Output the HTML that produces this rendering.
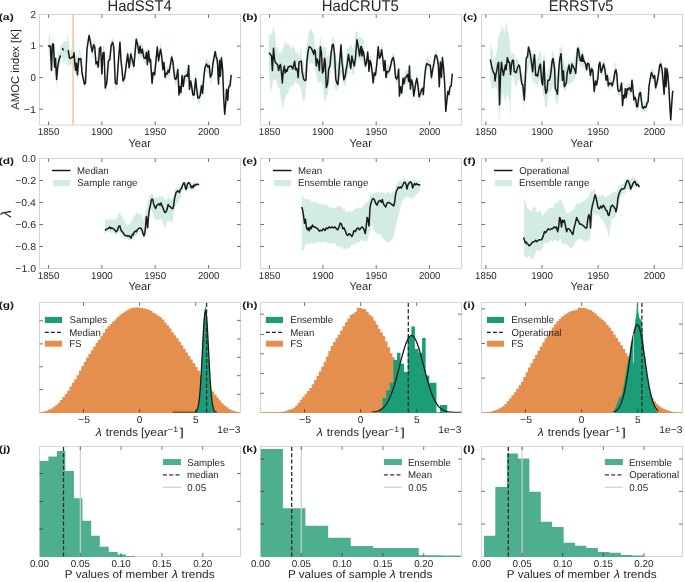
<!DOCTYPE html>
<html><head><meta charset="utf-8"><style>html,body{margin:0;padding:0;background:#fff;overflow:hidden}svg{display:block;will-change:transform}</style></head>
<body><svg width="685" height="582" viewBox="0 0 685 582" font-family='"Liberation Sans", sans-serif' text-rendering="geometricPrecision"><rect x="39.5" y="14.5" width="201" height="110.5" fill="none" stroke="#d5d5d5" stroke-width="1"/>
<rect x="260.5" y="14.5" width="201" height="110.5" fill="none" stroke="#d5d5d5" stroke-width="1"/>
<rect x="481.5" y="14.5" width="201" height="110.5" fill="none" stroke="#d5d5d5" stroke-width="1"/>
<rect x="39.5" y="158.5" width="201" height="110" fill="none" stroke="#d5d5d5" stroke-width="1"/>
<rect x="260.5" y="158.5" width="201" height="110" fill="none" stroke="#d5d5d5" stroke-width="1"/>
<rect x="481.5" y="158.5" width="201" height="110" fill="none" stroke="#d5d5d5" stroke-width="1"/>
<rect x="39.5" y="302.5" width="201" height="110" fill="none" stroke="#d5d5d5" stroke-width="1"/>
<rect x="260.5" y="302.5" width="201" height="110" fill="none" stroke="#d5d5d5" stroke-width="1"/>
<rect x="481.5" y="302.5" width="201" height="110" fill="none" stroke="#d5d5d5" stroke-width="1"/>
<rect x="39.5" y="446.5" width="201" height="110" fill="none" stroke="#d5d5d5" stroke-width="1"/>
<rect x="260.5" y="446.5" width="201" height="110" fill="none" stroke="#d5d5d5" stroke-width="1"/>
<rect x="481.5" y="446.5" width="201" height="110" fill="none" stroke="#d5d5d5" stroke-width="1"/>
<clipPath id="ca"><rect x="39.5" y="14.5" width="201" height="111.0"/></clipPath><g clip-path="url(#ca)">
<polygon points="48.56,37.24 49.63,31.94 50.70,43.50 51.76,56.16 52.83,33.47 53.90,46.38 54.96,57.45 56.03,57.21 57.09,58.02 58.16,53.50 59.23,52.76 60.29,46.61 61.36,45.37 62.43,42.41 63.49,41.82 64.56,41.05 65.62,41.19 66.69,41.55 67.76,34.16 68.82,40.65 69.89,50.75 70.96,50.93 72.02,44.71 73.09,43.96 74.16,38.89 75.22,60.75 76.29,49.50 77.35,58.05 78.42,56.07 79.49,46.63 80.55,53.76 81.62,59.35 82.69,70.94 83.75,75.94 84.82,76.43 85.88,68.24 86.95,45.35 88.02,37.05 89.08,30.49 90.15,35.66 91.22,38.22 92.28,45.54 93.35,40.95 94.42,38.57 95.48,51.74 96.55,57.73 97.61,56.29 98.68,55.53 99.75,43.06 100.81,45.44 101.88,68.37 102.95,45.20 104.01,46.07 105.08,77.02 106.14,76.95 107.21,71.80 108.28,55.11 109.34,54.72 110.41,45.97 111.48,39.00 112.54,37.66 113.61,40.97 114.68,62.71 115.74,77.08 116.81,78.88 117.87,64.00 118.94,48.31 120.01,36.61 121.07,53.16 122.14,66.22 123.21,74.81 124.27,73.38 125.34,65.64 126.40,57.97 127.47,47.21 128.54,54.72 129.60,59.43 130.67,49.95 131.74,50.87 132.80,57.04 133.87,60.30 134.94,48.41 136.00,36.43 137.07,35.70 138.13,40.86 139.20,44.36 140.27,42.00 141.33,44.61 142.40,43.68 143.47,47.82 144.53,51.58 145.60,51.12 146.66,49.67 147.73,52.31 148.80,46.79 149.86,53.91 150.93,60.00 152.00,77.35 153.06,68.25 154.13,67.98 155.19,62.16 156.26,50.97 157.33,41.85 158.39,53.73 159.46,49.97 160.53,41.51 161.59,49.37 162.66,61.46 163.73,58.72 164.79,66.36 165.86,65.91 166.92,67.56 167.99,65.56 169.06,64.92 170.12,59.45 171.19,54.62 172.26,53.19 173.32,60.75 174.39,68.79 175.45,73.68 176.52,68.85 177.59,66.17 178.65,80.18 179.72,80.90 180.79,86.14 181.85,73.54 182.92,77.37 183.99,73.11 185.05,71.24 186.12,69.03 187.18,69.07 188.25,62.47 189.32,78.26 190.38,77.16 191.45,80.31 192.52,85.49 193.58,89.53 194.65,82.22 195.71,72.89 196.78,84.37 197.85,89.32 198.91,89.90 199.98,90.55 201.05,82.58 202.11,84.25 203.18,77.65 204.25,65.55 205.31,60.19 206.38,57.20 207.44,59.32 208.51,61.21 209.58,60.75 210.64,70.29 211.71,68.87 212.78,57.31 213.84,53.73 214.91,46.54 215.97,49.90 217.04,51.86 218.11,68.18 219.17,63.99 220.24,68.49 221.31,54.19 222.37,59.42 223.44,82.35 224.51,102.97 225.57,99.61 226.64,84.82 227.70,92.94 228.77,79.90 229.84,80.16 230.90,70.06 230.90,85.62 229.84,91.32 228.77,93.83 227.70,105.74 226.64,97.29 225.57,111.06 224.51,116.23 223.44,96.58 222.37,73.88 221.31,67.35 220.24,78.76 219.17,76.87 218.11,80.76 217.04,64.33 215.97,60.94 214.91,60.04 213.84,64.65 212.78,70.58 211.71,82.35 210.64,83.85 209.58,77.50 208.51,74.39 207.44,72.96 206.38,71.70 205.31,72.11 204.25,79.67 203.18,92.84 202.11,96.25 201.05,97.13 199.98,101.57 198.91,105.02 197.85,102.34 196.78,97.44 195.71,86.60 194.65,95.26 193.58,100.49 192.52,97.65 191.45,91.29 190.38,88.34 189.32,90.33 188.25,78.16 187.18,82.37 186.12,81.51 185.05,81.39 183.99,85.96 182.92,88.29 181.85,83.66 180.79,98.97 179.72,94.19 178.65,92.97 177.59,76.22 176.52,83.16 175.45,86.77 174.39,81.42 173.32,71.79 172.26,64.48 171.19,65.19 170.12,74.62 169.06,80.15 167.99,76.75 166.92,79.46 165.86,79.42 164.79,81.80 163.73,69.78 162.66,73.74 161.59,63.12 160.53,56.20 159.46,60.38 158.39,66.00 157.33,52.19 156.26,65.54 155.19,75.13 154.13,79.28 153.06,79.73 152.00,89.55 150.93,73.46 149.86,67.37 148.80,59.53 147.73,68.58 146.66,61.35 145.60,64.02 144.53,63.84 143.47,61.91 142.40,56.82 141.33,60.31 140.27,54.44 139.20,59.73 138.13,54.87 137.07,50.71 136.00,47.73 134.94,62.41 133.87,73.36 132.80,68.67 131.74,66.06 130.67,62.94 129.60,69.56 128.54,67.99 127.47,62.31 126.40,71.47 125.34,77.10 124.27,84.21 123.21,85.73 122.14,76.60 121.07,66.42 120.01,48.54 118.94,62.29 117.87,74.32 116.81,91.07 115.74,88.97 114.68,75.58 113.61,53.20 112.54,50.95 111.48,49.88 110.41,60.28 109.34,68.15 108.28,70.36 107.21,82.34 106.14,92.41 105.08,87.36 104.01,60.18 102.95,59.48 101.88,79.93 100.81,57.23 99.75,54.52 98.68,66.01 97.61,69.08 96.55,68.34 95.48,65.25 94.42,52.89 93.35,51.92 92.28,58.84 91.22,53.97 90.15,46.29 89.08,41.38 88.02,48.81 86.95,57.61 85.88,80.44 84.82,88.99 83.75,86.04 82.69,81.36 81.62,74.82 80.55,64.35 79.49,66.24 78.42,72.74 77.35,81.80 76.29,72.79 75.22,73.46 74.16,67.73 73.09,65.48 72.02,65.18 70.96,64.25 69.89,64.98 68.82,65.65 67.76,66.05 66.69,57.33 65.62,61.23 64.56,61.02 63.49,63.78 62.43,57.15 61.36,58.86 60.29,62.07 59.23,65.20 58.16,74.74 57.09,89.13 56.03,74.63 54.96,76.61 53.90,59.88 52.83,56.77 51.76,71.93 50.70,62.71 49.63,55.41 48.56,55.56" fill="#d2ece5" stroke="none"/>
<line x1="73.1" y1="14.5" x2="73.1" y2="125.0" stroke="#f3ceb3" stroke-width="1.8"/>
<polyline points="48.09,45.46 49.64,46.69 50.41,46.23 51.49,70.49 52.42,43.91 53.50,44.22 54.58,67.09 55.51,58.59 56.59,79.46 57.67,67.09 58.91,60.14 60.46,55.50" fill="none" stroke="#1a1a1a" stroke-width="1.5" stroke-linejoin="round" stroke-linecap="butt"/>
<polyline points="62.31,48.24 63.55,50.40" fill="none" stroke="#1a1a1a" stroke-width="1.5" stroke-linejoin="round" stroke-linecap="butt"/>
<polyline points="68.18,50.09 69.42,57.82 70.50,58.59 72.05,57.05 73.13,57.51 74.06,52.87 74.83,63.23 75.60,70.19 76.38,63.23 77.46,74.82 78.69,58.59 79.78,59.37 80.86,58.59 82.09,73.28 84.41,84.10 85.49,83.32 87.04,48.55 89.05,35.41 90.60,43.14 92.14,51.64 93.69,44.68 94.77,47.00 96.00,64.00 97.24,61.68 98.32,67.09 99.40,48.55 100.64,47.00 101.88,74.05 102.96,53.18 104.04,52.41 105.28,87.96 106.82,82.55 108.37,60.91 109.91,59.37 111.15,45.46 112.70,42.36 113.78,47.00 115.32,83.32 116.87,84.10 118.42,60.91 119.96,42.36 121.04,60.91 121.97,69.41 123.05,81.00 124.60,77.91 126.14,65.55 127.69,53.96 129.23,67.87 130.78,53.96 132.33,60.14 133.87,66.32 136.19,39.27 137.74,45.46 138.97,53.18 140.05,46.23 141.14,53.18 142.37,49.32 142.32,49.32 143.86,57.82 145.41,58.59 146.49,52.41 147.42,64.78 148.50,50.87 149.58,61.68 150.51,59.37 152.06,83.32 153.14,72.50 154.68,74.82 155.92,60.91 157.31,47.00 158.55,60.91 159.78,53.18 160.56,49.32 161.64,55.50 162.87,69.41 163.96,62.46 165.04,77.14 165.97,73.28 167.05,74.05 168.13,70.19 169.06,72.50 170.14,66.32 171.68,57.05 172.77,60.91 173.69,69.41 174.78,78.69 175.86,79.46 176.79,76.37 177.87,69.41 178.95,94.91 179.88,86.41 180.96,92.60 182.04,75.60 183.28,86.41 184.51,76.37 185.60,76.37 186.68,74.82 187.60,76.37 188.69,65.55 189.46,89.51 190.70,81.00 191.78,87.19 192.86,94.91 194.10,94.91 195.64,78.69 196.88,91.05 197.96,98.01 199.04,98.01 200.28,94.91 201.51,85.64 202.60,93.37 203.68,78.69 204.91,67.87 206.46,64.00 208.01,67.09 209.24,65.55 210.32,77.14 211.87,74.05 212.95,63.23 213.88,58.59 215.12,51.64 216.20,57.05 216.97,58.59 217.59,64.78 218.52,84.10 219.60,60.14 220.37,76.37 221.45,57.82 222.69,70.19 223.77,99.55 224.70,114.23 225.78,102.64 226.55,89.51 227.79,100.32 228.41,88.73 229.34,85.64 230.11,85.64 231.19,74.82" fill="none" stroke="#1a1a1a" stroke-width="1.5" stroke-linejoin="round" stroke-linecap="butt"/>
</g>
<clipPath id="cb"><rect x="260.5" y="14.5" width="201" height="111.0"/></clipPath><g clip-path="url(#cb)">
<polygon points="268.86,34.26 269.93,35.63 271.00,33.59 272.07,34.07 273.14,26.51 274.21,29.88 275.28,35.01 276.35,47.70 277.42,47.05 278.49,54.94 279.56,50.15 280.63,54.02 281.70,50.60 282.77,50.27 283.84,46.80 284.91,41.46 285.98,42.98 287.05,44.95 288.12,41.63 289.19,45.88 290.26,46.37 291.33,49.61 292.40,43.65 293.47,48.45 294.54,47.28 295.61,52.33 296.68,53.72 297.75,51.26 298.82,57.48 299.89,51.54 300.96,47.07 302.03,60.01 303.10,59.06 304.17,70.63 305.24,71.77 306.31,45.79 307.38,41.57 308.45,34.04 309.52,29.79 310.59,29.82 311.66,29.07 312.73,33.42 313.80,34.23 314.87,47.14 315.94,50.70 317.01,48.93 318.08,48.11 319.15,48.19 320.22,36.27 321.29,42.89 322.36,45.52 323.43,46.76 324.50,47.50 325.57,46.86 326.64,56.13 327.71,55.19 328.78,53.87 329.85,57.34 330.92,49.54 331.99,39.68 333.06,35.05 334.13,39.63 335.20,52.12 336.27,58.33 337.34,62.97 338.41,60.65 339.48,48.45 340.55,39.54 341.62,47.53 342.69,54.81 343.76,60.66 344.83,70.61 345.90,58.53 346.97,49.33 348.04,46.71 349.11,48.66 350.18,45.11 351.25,44.52 352.32,47.84 353.39,49.66 354.46,43.47 355.53,32.47 356.60,31.57 357.67,30.79 358.74,37.99 359.81,36.28 360.88,37.94 361.95,39.25 363.02,37.04 363.92,42.00 363.92,69.82 363.02,62.73 361.95,59.54 360.88,63.34 359.81,59.74 358.74,59.63 357.67,58.86 356.60,60.18 355.53,63.66 354.46,72.34 353.39,76.66 352.32,72.78 351.25,70.11 350.18,71.63 349.11,68.30 348.04,74.89 346.97,76.51 345.90,83.17 344.83,87.05 343.76,83.85 342.69,81.80 341.62,73.88 340.55,74.90 339.48,80.56 338.41,88.82 337.34,91.03 336.27,87.27 335.20,91.43 334.13,72.23 333.06,67.03 331.99,62.44 330.92,71.76 329.85,76.93 328.78,85.93 327.71,95.04 326.64,96.27 325.57,101.77 324.50,99.78 323.43,92.55 322.36,83.82 321.29,83.85 320.22,81.09 319.15,83.83 318.08,81.34 317.01,78.37 315.94,71.70 314.87,69.73 313.80,62.72 312.73,63.61 311.66,64.45 310.59,62.54 309.52,64.50 308.45,59.81 307.38,74.53 306.31,83.22 305.24,95.90 304.17,101.77 303.10,100.31 302.03,96.38 300.96,86.14 299.89,88.88 298.82,83.04 297.75,82.91 296.68,84.43 295.61,80.60 294.54,82.67 293.47,87.05 292.40,83.68 291.33,88.99 290.26,85.97 289.19,88.83 288.12,93.44 287.05,94.58 285.98,94.33 284.91,100.73 283.84,99.28 282.77,110.28 281.70,101.51 280.63,96.81 279.56,87.10 278.49,89.29 277.42,82.95 276.35,82.11 275.28,79.39 274.21,79.02 273.14,79.95 272.07,85.04 271.00,92.66 269.93,88.60 268.86,66.85" fill="#d2ece5" stroke="none"/>
<polygon points="360.20,42.45 361.27,41.13 362.33,48.51 363.40,44.50 364.47,53.29 365.53,61.61 366.60,56.32 367.66,45.90 368.73,62.36 369.80,55.06 370.86,55.70 371.93,66.31 373.00,76.22 374.06,66.69 375.13,70.45 376.19,65.11 377.26,53.32 378.33,42.95 379.39,53.89 380.46,49.23 381.53,43.74 382.59,49.10 383.66,60.93 384.73,57.87 385.79,70.24 386.86,65.56 387.92,64.50 388.99,66.19 390.06,62.97 391.12,55.39 392.19,55.53 393.26,51.29 394.32,57.01 395.39,70.10 396.45,74.37 397.52,71.52 398.59,65.30 399.65,89.36 400.72,83.29 401.79,87.81 402.85,75.65 403.92,76.48 404.99,72.29 406.05,69.64 407.12,70.50 408.18,70.45 409.25,62.89 410.32,82.65 411.38,73.40 412.45,78.63 413.52,86.63 414.58,84.03 415.65,79.73 416.71,74.09 417.78,80.09 418.85,87.45 419.91,88.26 420.98,87.20 422.05,83.82 423.11,88.49 424.18,76.46 425.25,64.38 426.31,60.34 427.38,56.99 428.44,59.31 429.51,58.63 430.58,61.97 431.64,72.06 432.71,63.60 433.78,58.55 434.84,52.76 435.91,47.97 436.97,53.29 438.04,59.12 439.11,78.44 440.17,60.65 441.24,69.11 442.31,53.85 443.37,61.78 444.44,75.40 445.51,99.03 446.57,97.40 447.64,86.39 448.70,90.07 449.77,84.09 450.84,82.06 451.90,73.52 451.90,84.07 450.84,92.51 449.77,94.66 448.70,99.16 447.64,99.66 446.57,110.82 445.51,108.50 444.44,86.40 443.37,70.19 442.31,63.36 441.24,79.10 440.17,70.72 439.11,89.73 438.04,68.14 436.97,61.43 435.91,59.48 434.84,65.35 433.78,68.56 432.71,76.53 431.64,81.72 430.58,75.76 429.51,69.19 428.44,69.13 427.38,68.56 426.31,70.87 425.25,77.30 424.18,90.13 423.11,96.78 422.05,95.49 420.98,99.31 419.91,99.83 418.85,102.68 417.78,88.76 416.71,83.20 415.65,88.62 414.58,95.01 413.52,98.38 412.45,89.44 411.38,84.78 410.32,91.78 409.25,75.32 408.18,83.82 407.12,83.30 406.05,84.70 404.99,84.44 403.92,87.84 402.85,86.50 401.79,96.43 400.72,93.62 399.65,101.55 398.59,73.72 397.52,82.78 396.45,84.40 395.39,81.99 394.32,67.42 393.26,65.52 392.19,63.61 391.12,68.15 390.06,72.80 388.99,75.79 387.92,79.26 386.86,76.71 385.79,79.49 384.73,69.80 383.66,73.93 382.59,64.19 381.53,54.64 380.46,60.70 379.39,62.14 378.33,52.77 377.26,63.82 376.19,76.75 375.13,81.46 374.06,79.11 373.00,85.55 371.93,74.92 370.86,68.64 369.80,69.43 368.73,70.71 367.66,56.94 366.60,65.98 365.53,70.35 364.47,62.88 363.40,56.56 362.33,59.50 361.27,52.12 360.20,52.77" fill="#d2ece5" stroke="none"/>
<polyline points="268.86,52.82 270.41,54.37 271.49,55.91 272.42,70.60 273.50,48.18 274.58,59.78 275.51,62.87 276.59,63.64 277.67,65.19 278.60,70.60 279.68,65.96 280.46,64.41 281.23,69.82 282.31,82.96 283.24,71.37 284.32,65.96 285.09,72.91 286.17,69.82 287.10,71.37 288.18,66.73 289.42,66.73 290.50,65.96 291.58,66.73 292.82,69.05 293.59,65.19 294.68,61.32 295.60,69.82 296.68,68.28 297.46,71.37 298.23,77.55 299.00,62.09 300.24,61.32 301.32,61.32 302.09,71.37 303.64,79.10 304.88,80.64 305.96,79.87 306.73,63.64 307.97,52.05 309.05,46.64 310.60,47.41 311.68,48.96 312.91,52.05 313.69,54.37 314.46,49.73 315.23,51.28 316.31,65.96 317.24,59.00 318.32,62.09 319.40,70.60 320.33,46.64 321.41,52.82 322.50,72.91 323.42,71.37 324.51,58.23 325.28,62.09 326.36,87.60 327.60,83.73 328.68,69.05 329.91,65.96 331.15,52.82 332.23,45.09 333.32,44.32 334.55,54.37 335.79,79.10 336.87,82.96 337.95,84.51 338.88,72.91 339.96,57.46 341.04,45.09 341.97,62.09 342.59,66.73 343.83,79.87 345.06,76.78 346.14,69.82 347.23,63.64 348.46,54.37 349.70,62.09 350.78,68.28 351.86,55.91 353.10,62.09 354.34,65.96 355.42,58.23 356.96,39.68 358.51,48.18 359.59,55.91 360.83,46.64 362.06,55.91 363.15,52.05 361.24,46.64 362.32,52.82 363.40,51.28 364.33,57.46 365.41,65.96 366.49,62.87 367.73,52.05 368.50,62.09 368.96,71.37 370.05,60.55 371.13,63.64 372.06,71.37 373.14,82.96 374.22,72.91 375.46,75.23 376.69,65.19 378.24,46.64 379.32,58.23 380.40,56.68 381.64,49.73 382.87,59.00 383.96,70.60 385.04,60.55 385.97,77.55 387.05,71.37 388.13,72.14 389.37,70.60 390.60,65.96 391.68,60.55 393.23,57.46 394.31,62.09 395.55,77.55 396.79,79.10 397.87,76.00 398.64,69.05 399.41,96.10 400.49,86.82 401.73,93.01 402.97,78.32 404.05,83.73 405.13,77.55 406.37,76.78 407.60,74.46 408.69,81.41 409.46,65.96 410.39,89.14 411.47,79.87 412.55,82.96 413.79,96.10 414.87,89.14 415.95,82.19 416.88,78.32 417.96,85.28 419.04,96.87 420.28,93.78 421.51,89.91 422.60,88.37 423.37,94.55 424.61,77.55 425.69,67.50 426.77,63.64 428.01,64.41 429.24,65.19 430.32,65.19 431.41,77.55 432.64,69.82 433.88,63.64 435.12,55.91 436.20,55.14 437.28,58.23 438.36,65.19 439.29,86.82 440.37,62.09 441.45,77.55 442.38,57.46 443.46,66.73 444.70,83.73 445.78,111.55 446.86,100.73 447.79,91.46 448.87,94.55 449.95,86.82 451.19,86.05 452.27,73.69" fill="none" stroke="#1a1a1a" stroke-width="1.5" stroke-linejoin="round" stroke-linecap="butt"/>
</g>
<clipPath id="cc"><rect x="481.5" y="14.5" width="201" height="111.0"/></clipPath><g clip-path="url(#cc)">
<polygon points="490.29,41.67 491.41,49.83 492.53,49.28 493.65,59.90 494.77,60.68 495.89,54.01 497.01,50.21 498.13,38.35 499.25,34.58 500.37,32.74 501.49,22.90 502.61,31.90 503.73,26.17 504.85,34.82 505.97,19.44 507.09,29.30 508.21,32.62 509.33,37.29 510.45,51.03 511.57,54.76 512.69,53.73 513.81,52.34 514.93,60.31 516.05,57.09 517.17,59.01 518.29,59.98 519.41,66.02 520.53,71.94 521.65,72.82 522.77,73.70 523.89,82.33 525.01,71.84 526.13,53.50 527.25,51.73 528.37,46.67 529.49,44.39 530.61,49.40 531.73,53.09 532.85,53.66 533.97,51.68 535.09,58.46 536.21,60.98 537.33,57.61 538.45,56.98 539.57,50.78 540.69,51.70 541.81,62.84 542.93,64.26 544.05,49.26 545.17,61.43 546.29,79.32 547.41,73.05 548.53,68.78 549.65,65.94 550.77,61.31 551.89,53.47 553.01,50.29 554.13,56.75 555.25,60.57 556.37,74.10 557.49,75.31 558.61,62.08 559.73,47.17 560.85,48.23 561.97,45.26 563.09,56.73 564.21,61.13 565.33,66.93 566.45,64.81 567.57,64.64 568.69,58.30 569.81,63.34 570.93,61.03 572.05,59.07 573.17,63.01 574.29,57.41 575.41,55.01 576.53,53.03 577.65,50.13 578.77,44.95 579.89,44.23 581.01,54.40 582.13,50.85 583.25,52.24 584.37,56.17 585.00,55.59 585.00,70.71 584.37,68.85 583.25,66.23 582.13,69.34 581.01,65.27 579.89,67.49 578.77,60.69 577.65,66.17 576.53,71.48 575.41,76.12 574.29,78.40 573.17,80.09 572.05,82.52 570.93,82.93 569.81,83.95 568.69,84.90 567.57,82.38 566.45,89.04 565.33,91.58 564.21,89.65 563.09,89.26 561.97,81.61 560.85,82.40 559.73,81.88 558.61,97.52 557.49,106.23 556.37,102.36 555.25,98.66 554.13,89.42 553.01,85.43 551.89,89.13 550.77,91.40 549.65,92.87 548.53,93.59 547.41,103.98 546.29,107.77 545.17,106.59 544.05,97.75 542.93,95.46 541.81,87.31 540.69,77.83 539.57,80.87 538.45,82.43 537.33,86.99 536.21,84.54 535.09,84.53 533.97,80.44 532.85,82.93 531.73,79.37 530.61,67.57 529.49,63.05 528.37,70.52 527.25,71.32 526.13,91.29 525.01,101.71 523.89,106.42 522.77,102.81 521.65,89.34 520.53,81.24 519.41,80.96 518.29,79.27 517.17,82.83 516.05,87.79 514.93,84.16 513.81,77.91 512.69,76.19 511.57,75.92 510.45,119.38 509.33,98.88 508.21,98.81 507.09,92.71 505.97,99.68 504.85,101.27 503.73,92.79 502.61,96.24 501.49,102.81 500.37,104.83 499.25,124.45 498.13,102.85 497.01,89.42 495.89,86.32 494.77,89.00 493.65,87.58 492.53,90.12 491.41,87.39 490.29,78.24" fill="#d2ece5" stroke="none"/>
<polygon points="586.94,63.49 588.06,58.54 589.19,60.91 590.31,70.31 591.43,66.09 592.56,63.98 593.68,78.10 594.80,81.61 595.92,78.44 597.05,74.49 598.17,70.29 599.29,59.06 600.42,62.34 601.54,65.57 602.66,59.40 603.78,59.98 604.91,62.25 606.03,75.63 607.15,68.82 608.28,80.62 609.40,76.46 610.52,77.56 611.64,80.34 612.77,78.77 613.89,72.46 615.01,63.36 616.14,62.41 617.26,76.24 618.38,84.42 619.51,84.89 620.63,84.21 621.75,81.01 622.87,97.85 624.00,89.01 625.12,82.72 626.24,91.35 627.37,83.64 628.49,83.36 629.61,84.10 630.73,86.47 631.86,77.00 632.98,81.83 634.10,93.95 635.23,93.48 636.35,97.77 637.47,102.61 638.59,94.03 639.72,86.81 640.84,88.72 641.96,97.78 643.09,103.53 644.21,101.90 645.33,103.22 646.45,101.33 647.58,98.35 648.70,86.58 649.82,73.90 650.95,70.89 652.07,67.71 653.19,69.46 654.32,71.00 655.44,80.22 656.56,78.94 657.68,74.74 658.81,65.22 659.93,58.51 661.05,60.61 662.18,66.31 663.30,80.31 664.42,81.33 665.54,70.91 666.67,69.92 667.79,67.15 668.91,84.90 670.04,100.91 671.16,108.82 672.28,91.54 672.28,101.30 671.16,120.29 670.04,113.09 668.91,94.88 667.79,81.08 666.67,81.26 665.54,83.02 664.42,90.99 663.30,89.34 662.18,75.48 661.05,72.26 659.93,70.69 658.81,80.01 657.68,85.84 656.56,88.32 655.44,91.99 654.32,83.06 653.19,81.90 652.07,79.64 650.95,80.33 649.82,85.69 648.70,95.17 647.58,108.34 646.45,112.98 645.33,111.48 644.21,111.28 643.09,112.28 641.96,113.03 640.84,100.03 639.72,101.52 638.59,104.79 637.47,110.74 636.35,109.82 635.23,102.83 634.10,106.33 632.98,94.54 631.86,88.23 630.73,94.87 629.61,96.56 628.49,93.17 627.37,95.78 626.24,103.62 625.12,95.44 624.00,103.00 622.87,106.88 621.75,93.34 620.63,96.40 619.51,95.27 618.38,96.04 617.26,85.08 616.14,77.88 615.01,79.89 613.89,85.93 612.77,88.40 611.64,89.06 610.52,88.01 609.40,87.37 608.28,92.02 607.15,82.53 606.03,86.31 604.91,77.99 603.78,69.06 602.66,74.89 601.54,76.99 600.42,70.99 599.29,72.03 598.17,79.26 597.05,87.50 595.92,86.52 594.80,95.08 593.68,88.80 592.56,74.36 591.43,76.96 590.31,81.49 589.19,69.17 588.06,69.82 586.94,71.60" fill="#d2ece5" stroke="none"/>
<polyline points="490.29,59.37 491.62,65.98 492.56,69.77 493.51,72.60 494.45,73.55 495.02,81.11 495.96,74.49 496.72,70.71 497.85,64.09 498.61,62.20 499.56,104.74 500.50,76.38 501.45,62.20 502.39,69.77 503.53,75.44 504.28,70.71 505.42,65.04 506.17,69.77 507.31,57.48 508.63,62.20 509.57,62.20 510.52,74.49 511.47,65.04 512.41,60.31 513.36,60.31 514.30,71.66 515.25,71.66 516.19,72.60 517.14,68.82 518.65,65.04 519.59,65.98 520.92,77.33 521.86,83.94 522.81,84.89 524.32,100.01 525.26,79.22 526.21,58.42 527.53,56.53 528.48,47.08 529.80,51.81 530.94,58.42 531.88,65.98 532.64,71.66 533.77,59.37 534.53,54.64 535.66,75.44 536.61,74.49 537.55,76.38 538.50,71.66 539.44,65.98 540.39,64.09 541.71,82.05 542.66,84.89 543.98,61.26 545.11,87.72 545.87,93.40 547.00,90.56 547.95,80.16 549.27,80.16 550.22,77.33 551.16,70.71 552.11,61.26 553.05,58.42 554.57,68.82 555.32,88.67 556.46,90.56 557.40,94.34 558.72,70.71 559.67,59.37 560.99,53.70 562.50,80.16 563.45,70.71 564.40,86.78 565.34,84.89 566.29,83.00 567.23,72.60 568.18,68.82 569.12,65.04 570.07,73.55 571.01,71.66 571.96,64.09 572.90,65.98 573.85,67.88 574.79,69.77 575.74,73.55 576.68,60.31 577.63,48.03 578.57,49.92 579.52,57.48 580.46,59.37 581.41,61.26 582.35,54.64 583.30,61.26 580.00,60.31 580.95,59.37 582.27,54.64 583.40,59.37 584.73,62.20 585.67,64.09 586.62,69.77 587.56,63.15 589.07,64.09 590.40,75.44 591.72,68.82 592.85,70.71 594.18,91.50 595.50,81.11 596.64,84.89 597.96,77.33 598.90,65.04 599.85,62.20 601.17,72.60 602.31,68.82 603.63,64.09 604.95,69.77 606.09,80.16 607.41,75.44 608.36,85.83 609.30,83.00 610.25,83.94 611.19,83.00 612.14,85.83 613.65,80.16 614.97,71.66 615.92,69.77 616.86,74.49 617.81,89.61 619.13,91.50 620.26,90.56 621.59,83.00 622.53,105.68 623.48,95.29 624.42,98.12 625.37,88.67 626.31,97.18 627.26,88.67 628.20,89.61 629.15,87.72 630.09,88.67 631.04,91.50 631.98,80.16 632.93,88.67 633.88,100.01 634.82,97.18 635.77,99.07 636.71,106.63 637.66,106.63 638.60,98.12 639.55,93.40 640.49,92.45 641.44,100.96 642.38,107.57 643.33,108.52 644.27,106.63 645.22,107.57 646.16,106.63 647.11,102.85 648.05,101.90 649.00,85.83 650.32,78.27 651.46,72.60 652.59,75.44 653.72,78.27 654.67,75.44 655.61,87.72 657.13,82.05 658.45,74.49 659.77,65.04 660.91,64.09 662.23,70.71 663.18,83.00 664.12,94.34 665.07,67.88 666.01,86.78 666.96,68.82 667.90,74.49 668.85,87.72 669.79,104.74 670.74,119.86 671.68,104.74 672.63,91.50 673.57,91.50" fill="none" stroke="#1a1a1a" stroke-width="1.5" stroke-linejoin="round" stroke-linecap="butt"/>
</g>
<clipPath id="cd"><rect x="39.5" y="158.5" width="201" height="110.5"/></clipPath><g clip-path="url(#cd)">
<polygon points="104.96,217.81 106.03,219.15 107.10,220.47 108.17,219.92 109.24,219.64 110.31,218.67 111.38,219.77 112.45,219.36 113.52,218.72 114.59,220.03 115.66,217.74 116.73,219.23 117.80,216.06 118.87,212.64 119.94,212.44 121.01,215.63 122.08,216.22 123.15,218.80 124.22,220.97 125.29,222.81 126.36,224.37 127.43,225.88 128.50,223.63 129.57,225.78 130.64,222.44 131.71,221.34 132.78,219.23 133.85,215.47 134.92,215.73 135.99,213.44 137.06,212.57 138.13,213.74 139.20,214.86 140.27,213.70 141.34,213.47 142.41,217.55 143.48,219.91 144.55,216.62 145.62,212.90 146.69,206.51 147.76,202.61 148.83,197.59 149.90,195.67 150.97,194.83 152.04,192.77 153.11,195.77 154.18,197.50 155.25,197.23 156.32,197.11 157.39,197.99 158.46,197.27 159.53,196.18 160.60,197.18 161.67,195.20 162.74,196.63 163.81,198.26 164.88,198.96 165.95,200.26 167.02,199.23 168.09,196.45 169.16,198.24 170.23,198.70 171.30,198.64 172.37,198.80 173.44,195.29 174.51,191.10 175.58,188.47 176.65,186.63 177.72,187.68 178.79,187.84 179.86,185.75 180.93,186.30 182.00,184.55 183.07,181.19 184.14,181.00 185.21,183.17 186.28,182.57 187.35,182.57 188.42,183.24 189.49,183.87 190.56,185.10 191.63,185.08 192.70,183.31 193.77,182.08 194.84,182.30 195.91,182.18 196.98,182.82 198.05,183.81 199.06,182.04 199.06,186.06 198.05,184.58 196.98,183.97 195.91,184.55 194.84,188.42 193.77,189.95 192.70,190.50 191.63,191.08 190.56,188.12 189.49,189.61 188.42,188.45 187.35,189.34 186.28,192.86 185.21,191.83 184.14,186.38 183.07,189.70 182.00,191.56 180.93,196.70 179.86,198.60 178.79,201.47 177.72,203.40 176.65,203.69 175.58,205.48 174.51,209.42 173.44,216.74 172.37,222.50 171.30,222.65 170.23,221.12 169.16,221.87 168.09,219.37 167.02,222.57 165.95,224.56 164.88,229.35 163.81,224.72 162.74,222.54 161.67,219.29 160.60,219.47 159.53,219.20 158.46,219.53 157.39,220.49 156.32,219.79 155.25,219.27 154.18,217.94 153.11,212.91 152.04,212.54 150.97,208.29 149.90,212.30 148.83,218.23 147.76,224.24 146.69,229.88 145.62,235.56 144.55,237.28 143.48,238.44 142.41,234.31 141.34,234.37 140.27,231.86 139.20,231.88 138.13,232.53 137.06,235.30 135.99,237.07 134.92,235.68 133.85,237.70 132.78,236.98 131.71,238.80 130.64,240.27 129.57,240.24 128.50,240.29 127.43,238.73 126.36,239.20 125.29,237.92 124.22,237.96 123.15,237.74 122.08,235.56 121.01,233.25 119.94,233.38 118.87,231.10 117.80,234.15 116.73,234.42 115.66,233.98 114.59,233.70 113.52,232.93 112.45,232.11 111.38,233.30 110.31,232.32 109.24,230.41 108.17,232.78 107.10,231.30 106.03,233.61 104.96,234.90" fill="#d2ece5" stroke="none"/>
<polyline points="104.96,230.54 106.24,229.42 107.53,228.62 108.65,228.13 109.77,227.01 110.74,228.62 111.86,227.81 112.99,228.62 113.95,229.10 115.07,230.22 116.20,231.83 117.48,230.22 118.77,226.21 119.89,225.89 121.02,230.22 122.30,231.83 123.59,233.43 124.71,235.04 125.83,235.84 126.80,235.52 127.92,236.16 129.05,235.84 130.01,236.65 131.13,238.25 132.26,234.24 133.22,235.04 134.34,231.83 135.47,231.02 136.43,231.83 137.56,229.42 138.68,228.62 139.97,227.81 141.25,228.62 142.37,231.02 143.18,234.24 143.98,235.84 144.78,233.43 145.59,226.21 146.39,216.57 147.19,223.00 147.67,227.81 148.32,218.18 149.28,210.15 150.40,205.33 151.21,200.51 152.01,198.91 152.81,199.71 153.62,203.72 154.74,206.94 155.70,208.54 156.83,205.33 157.95,204.53 158.92,203.72 160.04,205.33 160.84,202.92 161.65,204.53 162.45,206.94 163.25,208.54 164.38,211.75 165.34,212.56 166.46,210.95 167.27,208.54 168.07,204.53 169.19,206.13 170.48,206.94 171.76,208.54 172.89,208.54 173.69,205.33 174.49,198.91 175.30,195.69 176.10,192.48 176.90,191.68 177.70,190.88 178.51,191.68 179.31,192.48 180.11,190.07 180.92,189.27 181.72,187.67 182.52,185.26 183.33,183.65 184.13,182.85 184.93,185.26 185.73,189.27 186.54,188.47 187.34,184.45 188.14,182.85 188.95,182.53 189.75,183.65 190.55,185.26 191.35,187.67 192.16,186.06 192.96,187.67 193.76,185.26 194.57,186.06 195.37,184.45 196.49,184.77 197.78,184.13 199.06,184.77" fill="none" stroke="#1a1a1a" stroke-width="1.5" stroke-linejoin="round" stroke-linecap="butt"/>
</g>
<clipPath id="ce"><rect x="260.5" y="158.5" width="201" height="110.5"/></clipPath><g clip-path="url(#ce)">
<polygon points="301.64,195.47 302.71,195.38 303.78,198.76 304.85,199.52 305.92,198.69 306.99,199.81 308.06,199.00 309.13,199.56 310.20,200.29 311.27,202.04 312.34,201.07 313.41,203.61 314.48,201.18 315.55,201.81 316.62,201.77 317.69,204.08 318.76,203.14 319.83,203.72 320.90,203.55 321.97,204.75 323.04,204.32 324.11,204.00 325.18,204.93 326.25,204.82 327.32,204.52 328.39,207.20 329.46,207.30 330.53,207.79 331.60,208.84 332.67,207.65 333.74,207.87 334.81,208.27 335.88,207.45 336.95,207.44 338.02,204.65 339.09,205.85 340.16,206.77 341.23,206.92 342.30,206.66 343.37,209.42 344.44,208.12 345.51,211.21 346.58,211.40 347.65,211.70 348.72,211.79 349.79,211.08 350.86,210.71 351.93,211.60 353.00,211.01 354.07,209.20 355.14,209.36 356.21,208.27 357.28,207.99 358.35,208.76 359.42,206.71 360.49,208.03 361.56,207.14 362.63,206.76 363.70,204.37 364.77,203.91 365.84,202.69 366.91,202.56 367.98,201.57 369.05,198.14 370.12,195.24 371.19,192.72 372.26,194.13 373.33,193.98 374.40,193.72 375.47,193.32 376.54,191.30 377.61,191.41 378.68,193.20 379.75,192.68 380.82,192.78 381.89,191.45 382.96,193.13 384.03,191.24 385.10,193.75 386.17,193.53 387.24,191.95 388.31,191.50 389.38,193.30 390.45,193.89 391.52,192.88 392.59,192.00 393.66,191.28 394.73,191.13 395.80,185.18 396.87,184.81 397.94,181.68 399.01,180.67 400.08,179.68 401.15,181.57 402.22,180.93 403.29,178.83 404.36,177.96 405.43,179.99 406.50,181.05 407.57,178.58 408.64,180.44 409.71,181.11 410.78,180.24 411.85,180.93 412.92,181.82 413.99,179.76 415.06,179.51 416.13,180.73 417.20,180.76 418.27,181.07 419.34,180.98 420.26,180.44 420.26,191.83 419.34,191.11 418.27,192.50 417.20,194.05 416.13,194.07 415.06,197.39 413.99,195.35 412.92,200.28 411.85,197.36 410.78,198.56 409.71,197.74 408.64,196.15 407.57,197.77 406.50,195.89 405.43,197.20 404.36,199.44 403.29,199.40 402.22,202.15 401.15,204.52 400.08,209.94 399.01,214.12 397.94,216.53 396.87,221.12 395.80,225.02 394.73,232.24 393.66,236.48 392.59,239.07 391.52,238.78 390.45,241.50 389.38,242.90 388.31,241.14 387.24,243.47 386.17,240.50 385.10,239.89 384.03,240.61 382.96,237.69 381.89,237.21 380.82,234.41 379.75,234.92 378.68,234.11 377.61,234.15 376.54,234.00 375.47,231.73 374.40,229.83 373.33,229.76 372.26,224.87 371.19,226.60 370.12,230.63 369.05,233.06 367.98,238.13 366.91,242.17 365.84,240.97 364.77,241.19 363.70,241.10 362.63,241.05 361.56,239.85 360.49,240.82 359.42,242.55 358.35,242.63 357.28,242.10 356.21,243.77 355.14,243.49 354.07,245.04 353.00,245.02 351.93,244.50 350.86,245.62 349.79,247.64 348.72,249.38 347.65,247.06 346.58,249.23 345.51,248.35 344.44,248.98 343.37,249.38 342.30,246.99 341.23,246.42 340.16,246.97 339.09,246.28 338.02,247.22 336.95,246.08 335.88,244.38 334.81,243.57 333.74,243.35 332.67,243.75 331.60,243.88 330.53,242.90 329.46,244.33 328.39,242.57 327.32,243.94 326.25,241.77 325.18,241.24 324.11,242.69 323.04,242.27 321.97,242.35 320.90,242.17 319.83,242.50 318.76,241.21 317.69,242.92 316.62,242.22 315.55,242.67 314.48,242.67 313.41,244.21 312.34,243.07 311.27,242.57 310.20,244.08 309.13,243.44 308.06,244.51 306.99,243.83 305.92,243.66 304.85,246.24 303.78,249.22 302.71,250.39 301.64,253.31" fill="#d2ece5" stroke="none"/>
<polyline points="301.64,207.01 302.59,209.86 303.54,215.55 304.49,223.14 305.44,219.35 306.39,226.94 307.34,229.78 308.29,227.89 309.23,230.73 310.18,226.94 311.13,228.83 312.46,225.04 313.60,226.94 314.93,226.94 316.26,227.89 317.77,228.83 319.29,231.11 320.62,230.35 321.95,230.73 323.47,228.83 324.99,230.35 326.32,227.89 327.64,228.83 329.16,226.94 330.68,227.89 332.01,226.94 333.34,227.89 334.86,226.94 336.37,228.83 337.70,229.78 339.03,226.94 340.17,223.14 341.50,224.09 342.83,228.83 343.97,227.89 345.29,230.73 346.62,234.53 347.76,235.48 349.09,233.58 350.42,234.53 351.94,236.43 352.89,234.53 353.83,230.73 355.35,231.68 356.68,228.83 358.01,227.89 359.53,229.78 361.05,227.89 362.38,226.94 363.70,228.83 365.22,233.58 366.17,226.94 367.12,217.45 368.07,219.35 369.02,225.99 369.97,207.96 370.92,203.21 371.86,200.37 372.81,198.47 374.33,199.42 375.66,203.21 376.99,205.11 378.51,201.32 380.03,200.37 381.35,202.26 382.30,199.42 383.25,203.21 384.20,205.11 385.72,207.01 387.05,203.21 388.38,202.26 389.89,203.21 391.41,204.16 392.74,205.11 393.69,206.06 394.64,202.26 395.59,194.67 396.54,190.88 397.49,188.98 398.44,187.08 399.38,188.03 400.33,187.08 401.28,188.03 402.23,186.13 403.18,184.23 404.13,182.34 405.08,182.34 406.03,184.23 406.98,188.98 407.92,185.18 408.87,183.29 410.39,181.77 411.72,183.29 412.67,188.03 413.62,185.18 414.57,183.66 415.52,184.80 416.47,183.66 417.98,184.80 419.31,184.80 420.26,185.18" fill="none" stroke="#1a1a1a" stroke-width="1.5" stroke-linejoin="round" stroke-linecap="butt"/>
</g>
<clipPath id="cf"><rect x="481.5" y="158.5" width="201" height="110.5"/></clipPath><g clip-path="url(#cf)">
<polygon points="524.11,197.96 525.18,201.66 526.25,203.31 527.32,208.15 528.39,208.94 529.46,209.26 530.53,210.67 531.60,211.23 532.67,208.61 533.74,207.58 534.81,205.35 535.88,208.58 536.95,213.36 538.02,212.21 539.09,210.43 540.16,210.40 541.23,211.89 542.30,215.72 543.37,214.87 544.44,213.56 545.51,211.99 546.58,211.09 547.65,209.19 548.72,209.21 549.79,207.34 550.86,208.06 551.93,207.66 553.00,207.42 554.07,205.61 555.14,203.54 556.21,203.06 557.28,203.59 558.35,201.55 559.42,200.12 560.49,199.26 561.56,199.85 562.63,204.59 563.70,205.57 564.77,208.90 565.84,212.17 566.91,213.37 567.98,213.84 569.05,213.16 570.12,211.39 571.19,210.78 572.26,210.73 573.33,209.82 574.40,207.80 575.47,205.15 576.54,204.44 577.61,202.66 578.68,203.19 579.75,203.85 580.82,202.93 581.89,201.70 582.96,202.01 584.03,200.51 585.10,200.39 586.17,198.76 587.24,197.78 588.31,197.98 589.38,194.15 590.45,191.26 591.52,191.59 592.59,191.25 593.66,188.58 594.73,189.86 595.80,194.00 596.87,195.60 597.94,194.82 599.01,195.14 600.08,196.31 601.15,196.36 602.22,193.47 603.29,195.43 604.36,197.51 605.43,197.05 606.50,196.92 607.57,195.39 608.64,195.68 609.71,194.22 610.78,193.06 611.85,193.61 612.92,192.53 613.99,192.08 615.06,191.82 616.13,192.27 617.20,189.84 618.27,187.86 619.34,185.82 620.41,184.60 621.48,183.72 622.55,183.33 623.62,183.96 624.69,180.87 625.76,179.52 626.83,178.41 627.90,178.80 628.97,178.41 630.04,179.97 631.11,178.66 632.18,176.70 633.25,176.26 634.32,177.03 635.39,179.42 636.46,178.76 637.53,180.81 638.60,181.92 639.31,179.49 639.31,188.03 638.60,186.86 637.53,186.63 636.46,188.28 635.39,186.62 634.32,187.48 633.25,186.71 632.18,187.85 631.11,190.43 630.04,190.21 628.97,190.92 627.90,188.81 626.83,189.03 625.76,191.91 624.69,193.91 623.62,193.69 622.55,193.37 621.48,195.37 620.41,198.21 619.34,203.40 618.27,208.15 617.20,211.20 616.13,215.79 615.06,217.44 613.99,217.13 612.92,218.72 611.85,219.24 610.78,225.27 609.71,232.16 608.64,236.94 607.57,232.42 606.50,227.60 605.43,225.86 604.36,223.18 603.29,219.71 602.22,219.86 601.15,220.06 600.08,216.67 599.01,216.09 597.94,214.48 596.87,215.85 595.80,212.89 594.73,215.85 593.66,213.94 592.59,218.07 591.52,224.89 590.45,235.35 589.38,243.09 588.31,239.77 587.24,238.80 586.17,241.40 585.10,241.94 584.03,240.61 582.96,241.09 581.89,239.96 580.82,238.93 579.75,238.73 578.68,239.07 577.61,239.64 576.54,240.43 575.47,242.40 574.40,245.58 573.33,245.58 572.26,247.58 571.19,249.04 570.12,248.27 569.05,245.84 567.98,246.15 566.91,243.41 565.84,245.19 564.77,243.05 563.70,244.41 562.63,243.56 561.56,242.14 560.49,238.45 559.42,241.02 558.35,241.12 557.28,242.14 556.21,240.31 555.14,240.37 554.07,240.11 553.00,242.31 551.93,241.33 550.86,239.92 549.79,241.44 548.72,242.45 547.65,242.83 546.58,243.82 545.51,242.43 544.44,243.12 543.37,244.82 542.30,249.04 541.23,250.97 540.16,250.41 539.09,251.55 538.02,249.84 536.95,249.86 535.88,252.02 534.81,255.04 533.74,256.20 532.67,259.81 531.60,258.07 530.53,258.26 529.46,255.57 528.39,256.50 527.32,258.30 526.25,257.86 525.18,256.26 524.11,255.01" fill="#d2ece5" stroke="none"/>
<polyline points="523.54,237.38 524.49,240.22 525.44,243.07 526.39,242.12 527.34,244.02 528.29,244.40 529.23,245.92 530.18,244.97 531.13,244.02 532.46,242.12 533.98,242.12 535.50,240.22 536.83,241.74 538.15,240.22 539.67,239.84 541.57,239.84 543.09,236.43 544.42,231.68 545.75,232.63 546.88,230.73 548.21,228.83 549.54,229.78 551.06,228.83 552.58,228.83 553.91,226.94 555.24,227.89 556.37,226.94 557.70,231.68 558.65,226.94 559.60,217.45 560.55,219.35 561.50,226.94 562.45,220.29 563.40,222.19 564.35,220.29 565.29,225.04 566.62,231.68 567.76,228.83 569.09,228.83 570.42,230.73 571.56,232.63 572.89,234.53 573.83,228.83 575.35,223.14 576.68,217.45 577.63,220.29 578.58,221.24 579.53,224.09 581.05,224.09 582.38,225.04 583.70,225.99 585.22,227.89 586.74,227.89 588.07,217.45 589.02,214.60 589.97,219.35 590.54,227.89 591.30,211.75 592.43,205.11 593.76,200.37 595.09,194.67 596.23,198.47 596.99,202.26 598.13,207.96 599.46,208.91 600.78,206.06 601.92,207.96 603.25,205.11 604.58,207.01 605.72,209.86 607.05,210.80 608.00,214.60 608.95,215.55 609.89,211.75 610.84,207.01 612.17,205.11 613.31,206.06 614.07,207.01 615.21,208.91 615.97,211.75 617.11,206.06 617.87,198.47 619.00,193.72 620.33,190.88 621.66,188.98 623.18,188.98 624.70,188.03 626.03,183.29 627.36,180.44 628.49,181.39 629.82,185.18 630.77,188.98 632.29,185.18 633.62,182.34 634.95,181.39 636.47,185.18 637.41,184.23 638.36,185.18 639.31,187.08" fill="none" stroke="#1a1a1a" stroke-width="1.5" stroke-linejoin="round" stroke-linecap="butt"/>
</g>
<clipPath id="cg2"><rect x="0" y="0" width="685" height="412.5"/></clipPath><clipPath id="cg3"><rect x="0" y="0" width="461.5" height="412.5"/></clipPath><clipPath id="cg4"><rect x="0" y="0" width="682.5" height="412.5"/></clipPath>
<clipPath id="cg"><rect x="39.5" y="302.5" width="201" height="110.5"/></clipPath><g clip-path="url(#cg)">
<path d="M39.50,413.00 L39.50,412.30 L41.07,412.30 L41.07,411.96 L43.44,411.96 L43.44,411.46 L45.81,411.46 L45.81,410.63 L48.18,410.63 L48.18,409.58 L50.55,409.58 L50.55,408.40 L52.92,408.40 L52.92,406.87 L55.29,406.87 L55.29,405.09 L57.66,405.09 L57.66,402.72 L60.03,402.72 L60.03,399.98 L62.40,399.98 L62.40,397.02 L64.77,397.02 L64.77,394.06 L67.14,394.06 L67.14,390.76 L69.51,390.76 L69.51,386.62 L71.88,386.62 L71.88,382.83 L74.25,382.83 L74.25,379.28 L76.62,379.28 L76.62,375.16 L78.99,375.16 L78.99,370.85 L81.36,370.85 L81.36,366.11 L83.73,366.11 L83.73,361.73 L86.10,361.73 L86.10,357.58 L88.47,357.58 L88.47,353.99 L90.84,353.99 L90.84,350.37 L93.21,350.37 L93.21,346.58 L95.58,346.58 L95.58,343.07 L97.95,343.07 L97.95,339.76 L100.32,339.76 L100.32,336.22 L102.69,336.22 L102.69,332.66 L105.06,332.66 L105.06,329.11 L107.43,329.11 L107.43,326.26 L109.80,326.26 L109.80,323.89 L112.17,323.89 L112.17,321.52 L114.54,321.52 L114.54,319.15 L116.91,319.15 L116.91,316.78 L119.28,316.78 L119.28,314.76 L121.65,314.76 L121.65,312.99 L124.02,312.99 L124.02,311.43 L126.39,311.43 L126.39,309.98 L128.76,309.98 L128.76,308.79 L131.13,308.79 L131.13,308.03 L133.50,308.03 L133.50,307.55 L135.87,307.55 L135.87,307.22 L138.24,307.22 L138.24,307.66 L140.61,307.66 L140.61,307.89 L142.98,307.89 L142.98,308.46 L145.35,308.46 L145.35,309.05 L147.72,309.05 L147.72,309.65 L150.09,309.65 L150.09,310.94 L152.46,310.94 L152.46,312.72 L154.83,312.72 L154.83,314.28 L157.20,314.28 L157.20,315.79 L159.57,315.79 L159.57,317.21 L161.94,317.21 L161.94,319.54 L164.31,319.54 L164.31,322.51 L166.68,322.51 L166.68,325.47 L169.05,325.47 L169.05,328.58 L171.42,328.58 L171.42,332.14 L173.79,332.14 L173.79,335.34 L176.16,335.34 L176.16,338.31 L178.53,338.31 L178.53,341.81 L180.90,341.81 L180.90,345.37 L183.27,345.37 L183.27,348.92 L185.64,348.92 L185.64,352.48 L188.01,352.48 L188.01,356.03 L190.38,356.03 L190.38,359.59 L192.75,359.59 L192.75,363.14 L195.12,363.14 L195.12,366.70 L197.49,366.70 L197.49,370.59 L199.86,370.59 L199.86,374.74 L202.23,374.74 L202.23,378.35 L204.60,378.35 L204.60,381.91 L206.97,381.91 L206.97,385.46 L209.34,385.46 L209.34,388.61 L211.71,388.61 L211.71,391.46 L214.08,391.46 L214.08,394.45 L216.45,394.45 L216.45,397.57 L218.82,397.57 L218.82,400.53 L221.19,400.53 L221.19,403.16 L223.56,403.16 L223.56,405.53 L225.93,405.53 L225.93,407.37 L228.30,407.37 L228.30,409.01 L230.67,409.01 L230.67,410.19 L233.04,410.19 L233.04,411.11 L235.41,411.11 L235.41,411.82 L237.78,411.82 L237.78,412.11 L240.15,412.11 L240.15,412.30 L240.50,412.30 L240.50,413.00 Z" fill="#e48f4e"/>
<polygon points="195.00,412.24 195.26,412.15 195.53,412.03 195.79,411.87 196.05,411.68 196.31,411.42 196.57,411.10 196.84,410.70 197.10,410.19 197.36,409.57 197.62,408.81 197.89,407.89 198.15,406.78 198.41,405.46 198.68,403.91 198.94,402.09 199.20,399.97 199.46,397.55 199.72,394.79 199.99,391.68 200.25,388.21 200.51,384.38 200.78,380.20 201.04,375.68 201.30,370.84 201.56,365.73 201.82,360.39 202.09,354.88 202.35,349.28 202.61,343.66 202.88,338.12 203.14,332.74 203.40,327.62 203.66,322.87 203.93,318.57 204.19,314.81 204.45,311.68 204.71,309.25 204.97,307.56 205.24,306.66 205.50,306.56 205.76,307.27 206.03,308.78 206.29,311.04 206.55,314.01 206.81,317.62 207.07,321.80 207.34,326.45 207.60,331.49 207.86,336.82 208.12,342.33 208.39,347.94 208.65,353.55 208.91,359.09 209.18,364.47 209.44,369.65 209.70,374.55 209.96,379.15 210.22,383.42 210.49,387.33 210.75,390.89 211.01,394.08 211.28,396.92 211.54,399.42 211.80,401.61 212.06,403.50 212.32,405.12 212.59,406.49 212.85,407.65 213.11,408.61 213.38,409.40 213.64,410.06 213.90,410.59 214.16,411.01 214.43,411.35 214.69,411.62 214.95,411.83 215.21,412.00 215.47,412.12 215.74,412.22 216.00,412.29 216.00,413.00 195.00,413.00" fill="#1b9e77" stroke="none"/>
<g clip-path="url(#cg2)">
<polyline points="172.80,412.50 173.17,412.50 173.54,412.50 173.91,412.50 174.27,412.50 174.64,412.50 175.01,412.50 175.38,412.50 175.75,412.50 176.12,412.50 176.48,412.50 176.85,412.50 177.22,412.50 177.59,412.50 177.96,412.50 178.33,412.50 178.69,412.50 179.06,412.50 179.43,412.50 179.80,412.50 180.17,412.50 180.53,412.50 180.90,412.50 181.27,412.50 181.64,412.50 182.01,412.50 182.38,412.50 182.75,412.50 183.11,412.50 183.48,412.50 183.85,412.50 184.22,412.50 184.59,412.50 184.96,412.50 185.32,412.50 185.69,412.50 186.06,412.50 186.43,412.50 186.80,412.50 187.17,412.50 187.53,412.50 187.90,412.50 188.27,412.50 188.64,412.50 189.01,412.50 189.38,412.50 189.74,412.50 190.11,412.50 190.48,412.50 190.85,412.50 191.22,412.50 191.59,412.50 191.95,412.49 192.32,412.49 192.69,412.48 193.06,412.47 193.43,412.45 193.80,412.42 194.16,412.37 194.53,412.31 194.90,412.21 195.27,412.06 195.64,411.86 196.00,411.57 196.37,411.17 196.74,410.62 197.11,409.89 197.48,408.93 197.85,407.68 198.22,406.08 198.58,404.08 198.95,401.60 199.32,398.59 199.69,394.99 200.06,390.78 200.43,385.92 200.79,380.44 201.16,374.38 201.53,367.80 201.90,360.82 202.27,353.58 202.63,346.28 203.00,339.11 203.37,332.31 203.74,326.11 204.11,320.73 204.48,316.38 204.84,313.24 205.21,311.43 205.58,311.04 205.95,312.06 206.32,314.48 206.69,318.17 207.06,323.00 207.42,328.77 207.79,335.27 208.16,342.26 208.53,349.51 208.90,356.81 209.27,363.95 209.63,370.77 210.00,377.14 210.37,382.95 210.74,388.15 211.11,392.72 211.47,396.66 211.84,399.99 212.21,402.76 212.58,405.02 212.95,406.84 213.32,408.27 213.69,409.39 214.05,410.24 214.42,410.89 214.79,411.36 215.16,411.71 215.53,411.96 215.90,412.13 216.26,412.26 216.63,412.34 217.00,412.40" fill="none" stroke="#1a1a1a" stroke-width="1.3" stroke-linejoin="round" stroke-linecap="butt"/>
</g>
<line x1="206.60" y1="412.5" x2="206.60" y2="302.5" stroke="#2a2a2a" stroke-width="1.3" stroke-dasharray="4 2.2"/>
</g>
<clipPath id="ch"><rect x="260.5" y="302.5" width="201" height="110.5"/></clipPath><g clip-path="url(#ch)">
<path d="M260.50,413.00 L260.50,412.30 L262.00,412.30 L262.00,412.30 L264.37,412.30 L264.37,412.30 L266.74,412.30 L266.74,412.30 L269.11,412.30 L269.11,412.30 L271.48,412.30 L271.48,412.30 L273.85,412.30 L273.85,412.30 L276.22,412.30 L276.22,412.30 L278.59,412.30 L278.59,412.10 L280.96,412.10 L280.96,411.86 L283.33,411.86 L283.33,411.42 L285.70,411.42 L285.70,410.59 L288.07,410.59 L288.07,409.84 L290.44,409.84 L290.44,409.13 L292.81,409.13 L292.81,407.70 L295.18,407.70 L295.18,405.76 L297.55,405.76 L297.55,402.80 L299.92,402.80 L299.92,399.84 L302.29,399.84 L302.29,396.87 L304.66,396.87 L304.66,393.91 L307.03,393.91 L307.03,390.95 L309.40,390.95 L309.40,387.99 L311.77,387.99 L311.77,384.24 L314.14,384.24 L314.14,380.09 L316.51,380.09 L316.51,375.94 L318.88,375.94 L318.88,371.60 L321.25,371.60 L321.25,366.86 L323.62,366.86 L323.62,361.73 L325.99,361.73 L325.99,356.40 L328.36,356.40 L328.36,351.06 L330.73,351.06 L330.73,346.11 L333.10,346.11 L333.10,341.97 L335.47,341.97 L335.47,338.21 L337.84,338.21 L337.84,334.65 L340.21,334.65 L340.21,330.51 L342.58,330.51 L342.58,326.36 L344.95,326.36 L344.95,322.22 L347.32,322.22 L347.32,318.45 L349.69,318.45 L349.69,314.90 L352.06,314.90 L352.06,313.67 L354.43,313.67 L354.43,311.87 L356.80,311.87 L356.80,307.64 L359.17,307.64 L359.17,308.10 L361.54,308.10 L361.54,308.67 L363.91,308.67 L363.91,309.23 L366.28,309.23 L366.28,311.75 L368.65,311.75 L368.65,314.79 L371.02,314.79 L371.02,316.47 L373.39,316.47 L373.39,320.66 L375.76,320.66 L375.76,324.46 L378.13,324.46 L378.13,328.79 L380.50,328.79 L380.50,332.56 L382.87,332.56 L382.87,336.29 L385.24,336.29 L385.24,341.41 L387.61,341.41 L387.61,347.33 L389.98,347.33 L389.98,353.26 L392.35,353.26 L392.35,357.26 L394.72,357.26 L394.72,359.99 L397.09,359.99 L397.09,364.73 L399.46,364.73 L399.46,369.47 L401.83,369.47 L401.83,374.21 L404.20,374.21 L404.20,378.95 L406.57,378.95 L406.57,383.69 L408.94,383.69 L408.94,388.43 L411.31,388.43 L411.31,393.17 L413.68,393.17 L413.68,397.91 L416.05,397.91 L416.05,401.70 L418.42,401.70 L418.42,405.10 L420.79,405.10 L420.79,407.47 L423.16,407.47 L423.16,409.18 L425.53,409.18 L425.53,410.13 L427.90,410.13 L427.90,411.08 L430.27,411.08 L430.27,411.40 L432.64,411.40 L432.64,411.69 L435.01,411.69 L435.01,411.99 L437.38,411.99 L437.38,412.17 L439.75,412.17 L439.75,412.29 L442.12,412.29 L442.12,412.30 L444.49,412.30 L444.49,412.30 L446.86,412.30 L446.86,412.30 L449.23,412.30 L449.23,412.30 L451.60,412.30 L451.60,412.30 L453.97,412.30 L453.97,412.30 L456.34,412.30 L456.34,412.30 L458.71,412.30 L458.71,412.30 L461.08,412.30 L461.08,412.30 L461.50,412.30 L461.50,413.00 Z" fill="#e48f4e"/>
<path d="M378.98,413.00 L378.98,408.98 L382.57,408.98 L382.57,413.00 Z M382.57,413.00 L382.57,398.04 L386.16,398.04 L386.16,413.00 Z M386.16,413.00 L386.16,390.20 L389.76,390.20 L389.76,413.00 Z M389.76,413.00 L389.76,382.86 L393.35,382.86 L393.35,413.00 Z M393.35,413.00 L393.35,360.00 L396.94,360.00 L396.94,413.00 Z M396.94,413.00 L396.94,352.65 L400.53,352.65 L400.53,413.00 Z M400.53,413.00 L400.53,363.76 L404.12,363.76 L404.12,413.00 Z M404.12,413.00 L404.12,371.92 L407.71,371.92 L407.71,413.00 Z M407.71,413.00 L407.71,336.33 L411.31,336.33 L411.31,413.00 Z M411.31,413.00 L411.31,326.53 L414.90,326.53 L414.90,413.00 Z M414.90,413.00 L414.90,349.06 L418.49,349.06 L418.49,413.00 Z M418.49,413.00 L418.49,352.65 L422.08,352.65 L422.08,413.00 Z M422.08,413.00 L422.08,337.96 L425.67,337.96 L425.67,413.00 Z M425.67,413.00 L425.67,375.51 L429.27,375.51 L429.27,413.00 Z M429.27,413.00 L429.27,382.86 L432.86,382.86 L432.86,413.00 Z M432.86,413.00 L432.86,382.86 L436.45,382.86 L436.45,413.00 Z M436.45,413.00 L436.45,412.51 L440.04,412.51 L440.04,413.00 Z M440.04,413.00 L440.04,404.90 L443.63,404.90 L443.63,413.00 Z M443.63,413.00 L443.63,404.90 L447.22,404.90 L447.22,413.00 Z " fill="#1b9e77"/>
<g clip-path="url(#cg3)">
<polyline points="371.60,412.20 372.35,412.13 373.11,412.05 373.86,411.95 374.61,411.83 375.37,411.69 376.12,411.53 376.87,411.33 377.63,411.10 378.38,410.83 379.13,410.52 379.89,410.16 380.64,409.74 381.39,409.26 382.15,408.71 382.90,408.09 383.65,407.39 384.41,406.59 385.16,405.70 385.91,404.71 386.67,403.61 387.42,402.39 388.17,401.05 388.93,399.58 389.68,397.98 390.43,396.25 391.19,394.38 391.94,392.38 392.69,390.24 393.45,387.98 394.20,385.59 394.95,383.08 395.71,380.47 396.46,377.76 397.21,374.97 397.97,372.12 398.72,369.22 399.47,366.29 400.23,363.36 400.98,360.45 401.73,357.59 402.49,354.79 403.24,352.09 403.99,349.51 404.75,347.09 405.50,344.83 406.25,342.78 407.01,340.94 407.76,339.34 408.51,338.01 409.27,336.94 410.02,336.16 410.77,335.68 411.53,335.50 412.28,335.62 413.03,336.05 413.79,336.77 414.54,337.78 415.29,339.06 416.05,340.61 416.80,342.40 417.55,344.42 418.31,346.63 419.06,349.03 419.81,351.58 420.57,354.26 421.32,357.03 422.07,359.89 422.83,362.79 423.58,365.72 424.33,368.65 425.09,371.55 425.84,374.42 426.59,377.22 427.35,379.95 428.10,382.58 428.85,385.11 429.61,387.52 430.36,389.81 431.11,391.97 431.87,394.00 432.62,395.90 433.37,397.65 434.13,399.28 434.88,400.77 435.63,402.14 436.39,403.38 437.14,404.50 437.89,405.52 438.65,406.43 439.40,407.24 440.15,407.96 440.91,408.60 441.66,409.16 442.41,409.65 443.17,410.08 443.92,410.45 444.67,410.77 445.43,411.05 446.18,411.29 446.93,411.49 447.69,411.66 448.44,411.81 449.19,411.93 449.95,412.03 450.70,412.12 451.45,412.19 452.21,412.25 452.96,412.30 453.71,412.34 454.47,412.37 455.22,412.40 455.97,412.42 456.73,412.43 457.48,412.45 458.23,412.46 458.99,412.47 459.74,412.48 460.49,412.48 461.25,412.49 462.00,412.49" fill="none" stroke="#1a1a1a" stroke-width="1.3" stroke-linejoin="round" stroke-linecap="butt"/>
</g>
<line x1="408.30" y1="412.5" x2="408.30" y2="302.5" stroke="#2a2a2a" stroke-width="1.3" stroke-dasharray="4 2.2"/>
</g>
<clipPath id="ci"><rect x="481.5" y="302.5" width="201" height="110.5"/></clipPath><g clip-path="url(#ci)">
<path d="M481.50,413.00 L481.50,412.30 L483.00,412.30 L483.00,412.30 L485.37,412.30 L485.37,412.30 L487.74,412.30 L487.74,411.99 L490.11,411.99 L490.11,411.60 L492.48,411.60 L492.48,411.00 L494.85,411.00 L494.85,410.11 L497.22,410.11 L497.22,408.92 L499.59,408.92 L499.59,407.74 L501.96,407.74 L501.96,406.34 L504.33,406.34 L504.33,403.97 L506.70,403.97 L506.70,401.30 L509.07,401.30 L509.07,398.34 L511.44,398.34 L511.44,395.37 L513.81,395.37 L513.81,392.31 L516.18,392.31 L516.18,388.76 L518.55,388.76 L518.55,385.20 L520.92,385.20 L520.92,381.65 L523.29,381.65 L523.29,377.10 L525.66,377.10 L525.66,372.36 L528.03,372.36 L528.03,367.62 L530.40,367.62 L530.40,363.18 L532.77,363.18 L532.77,359.03 L535.14,359.03 L535.14,354.88 L537.51,354.88 L537.51,350.73 L539.88,350.73 L539.88,346.59 L542.25,346.59 L542.25,342.44 L544.62,342.44 L544.62,338.29 L546.99,338.29 L546.99,334.63 L549.36,334.63 L549.36,331.08 L551.73,331.08 L551.73,327.52 L554.10,327.52 L554.10,324.26 L556.47,324.26 L556.47,321.29 L558.84,321.29 L558.84,318.82 L561.21,318.82 L561.21,316.54 L563.58,316.54 L563.58,314.76 L565.95,314.76 L565.95,313.15 L568.32,313.15 L568.32,311.73 L570.69,311.73 L570.69,310.89 L573.06,310.89 L573.06,310.21 L575.43,310.21 L575.43,309.74 L577.80,309.74 L577.80,307.54 L580.17,307.54 L580.17,308.11 L582.54,308.11 L582.54,307.78 L584.91,307.78 L584.91,308.61 L587.28,308.61 L587.28,309.44 L589.65,309.44 L589.65,310.27 L592.02,310.27 L592.02,311.80 L594.39,311.80 L594.39,313.61 L596.76,313.61 L596.76,315.98 L599.13,315.98 L599.13,317.96 L601.50,317.96 L601.50,319.74 L603.87,319.74 L603.87,322.10 L606.24,322.10 L606.24,324.66 L608.61,324.66 L608.61,327.62 L610.98,327.62 L610.98,330.97 L613.35,330.97 L613.35,334.52 L615.72,334.52 L615.72,338.08 L618.09,338.08 L618.09,341.63 L620.46,341.63 L620.46,345.19 L622.83,345.19 L622.83,349.12 L625.20,349.12 L625.20,353.27 L627.57,353.27 L627.57,356.45 L629.94,356.45 L629.94,360.75 L632.31,360.75 L632.31,365.49 L634.68,365.49 L634.68,370.23 L637.05,370.23 L637.05,374.97 L639.42,374.97 L639.42,378.80 L641.79,378.80 L641.79,382.59 L644.16,382.59 L644.16,385.96 L646.53,385.96 L646.53,389.28 L648.90,389.28 L648.90,393.73 L651.27,393.73 L651.27,398.27 L653.64,398.27 L653.64,401.43 L656.01,401.43 L656.01,403.90 L658.38,403.90 L658.38,405.90 L660.75,405.90 L660.75,407.67 L663.12,407.67 L663.12,408.88 L665.49,408.88 L665.49,409.97 L667.86,409.97 L667.86,410.80 L670.23,410.80 L670.23,411.41 L672.60,411.41 L672.60,411.88 L674.97,411.88 L674.97,412.13 L677.34,412.13 L677.34,412.30 L679.71,412.30 L679.71,412.30 L682.08,412.30 L682.08,412.30 L682.50,412.30 L682.50,413.00 Z" fill="#e48f4e"/>
<polygon points="613.60,412.30 616.56,404.78 619.53,396.88 621.51,395.89 623.48,386.99 625.46,375.13 627.44,363.27 629.42,353.38 630.80,343.50 632.38,335.59 634.36,331.63 635.35,319.77 636.33,313.84 636.93,302.97 637.72,302.97 638.31,311.86 639.30,317.79 640.29,319.77 641.28,318.78 642.27,325.70 643.25,339.54 644.24,353.38 645.23,357.33 646.22,369.20 648.20,383.04 650.17,392.92 652.15,396.88 654.13,404.78 656.11,410.72 658.08,412.30 658.08,413.00 613.60,413.00" fill="#1b9e77" stroke="none"/>
<g clip-path="url(#cg4)">
<polyline points="613.50,411.85 613.88,411.74 614.25,411.62 614.62,411.48 615.00,411.31 615.38,411.13 615.75,410.92 616.12,410.69 616.50,410.43 616.88,410.13 617.25,409.79 617.62,409.42 618.00,409.01 618.38,408.55 618.75,408.03 619.12,407.47 619.50,406.85 619.88,406.16 620.25,405.41 620.62,404.59 621.00,403.70 621.38,402.73 621.75,401.67 622.12,400.54 622.50,399.32 622.88,398.00 623.25,396.60 623.62,395.10 624.00,393.51 624.38,391.82 624.75,390.04 625.12,388.17 625.50,386.20 625.88,384.14 626.25,381.99 626.62,379.76 627.00,377.45 627.38,375.07 627.75,372.63 628.12,370.13 628.50,367.59 628.88,365.01 629.25,362.40 629.62,359.77 630.00,357.15 630.38,354.53 630.75,351.94 631.12,349.38 631.50,346.88 631.88,344.45 632.25,342.09 632.62,339.83 633.00,337.69 633.38,335.66 633.75,333.77 634.12,332.04 634.50,330.46 634.88,329.06 635.25,327.84 635.62,326.81 636.00,325.98 636.38,325.35 636.75,324.93 637.12,324.72 637.50,324.73 637.88,324.95 638.25,325.38 638.62,326.02 639.00,326.87 639.38,327.91 639.75,329.15 640.12,330.56 640.50,332.15 640.88,333.90 641.25,335.79 641.62,337.83 642.00,339.98 642.38,342.25 642.75,344.61 643.12,347.05 643.50,349.55 643.88,352.11 644.25,354.70 644.62,357.32 645.00,359.95 645.38,362.57 645.75,365.18 646.12,367.76 646.50,370.30 646.88,372.80 647.25,375.24 647.62,377.61 648.00,379.91 648.38,382.13 648.75,384.28 649.12,386.33 649.50,388.29 649.88,390.16 650.25,391.94 650.62,393.62 651.00,395.21 651.38,396.70 651.75,398.10 652.12,399.40 652.50,400.62 652.88,401.75 653.25,402.79 653.62,403.76 654.00,404.65 654.38,405.46 654.75,406.21 655.12,406.89 655.50,407.51 655.88,408.07 656.25,408.58 656.62,409.04 657.00,409.45 657.38,409.82 657.75,410.15 658.12,410.44 658.50,410.71" fill="none" stroke="#1a1a1a" stroke-width="1.3" stroke-linejoin="round" stroke-linecap="butt"/>
</g>
<line x1="633.4" y1="334" x2="633.4" y2="363" stroke="#ffffff" stroke-width="0.8" stroke-opacity="0.8"/>
<line x1="641.90" y1="412.5" x2="641.90" y2="302.5" stroke="#2a2a2a" stroke-width="1.3" stroke-dasharray="4 2.2"/>
</g>
<clipPath id="cj"><rect x="39.5" y="446.5" width="201" height="110.5"/></clipPath><g clip-path="url(#cj)">
<path d="M39.50,557.00 L39.50,460.90 L48.40,460.90 L48.40,557.00 Z M48.40,557.00 L48.40,456.40 L56.90,456.40 L56.90,557.00 Z M56.90,557.00 L56.90,451.00 L65.30,451.00 L65.30,557.00 Z M65.30,557.00 L65.30,470.90 L73.90,470.90 L73.90,557.00 Z M73.90,557.00 L73.90,498.20 L82.40,498.20 L82.40,557.00 Z M82.40,557.00 L82.40,520.70 L91.20,520.70 L91.20,557.00 Z M91.20,557.00 L91.20,535.70 L99.80,535.70 L99.80,557.00 Z M99.80,557.00 L99.80,546.70 L108.80,546.70 L108.80,557.00 Z M108.80,557.00 L108.80,552.00 L117.70,552.00 L117.70,557.00 Z M117.70,557.00 L117.70,554.60 L126.10,554.60 L126.10,557.00 Z M126.10,557.00 L126.10,556.00 L134.70,556.00 L134.70,557.00 Z " fill="#4daf8f"/>
<line x1="80.30" y1="446.5" x2="80.30" y2="556.5" stroke="#cfcfcf" stroke-width="1.2"/>
<line x1="63.50" y1="556.5" x2="63.50" y2="446.5" stroke="#2a2a2a" stroke-width="1.3" stroke-dasharray="4 2.2"/>
</g>
<clipPath id="ck"><rect x="260.5" y="446.5" width="201" height="110.5"/></clipPath><g clip-path="url(#ck)">
<path d="M260.50,557.00 L260.50,449.00 L282.90,449.00 L282.90,557.00 Z M282.90,557.00 L282.90,508.20 L305.40,508.20 L305.40,557.00 Z M305.40,557.00 L305.40,525.70 L328.20,525.70 L328.20,557.00 Z M328.20,557.00 L328.20,537.70 L350.70,537.70 L350.70,557.00 Z M350.70,557.00 L350.70,546.10 L373.20,546.10 L373.20,557.00 Z M373.20,557.00 L373.20,548.00 L395.70,548.00 L395.70,557.00 Z M395.70,557.00 L395.70,548.00 L418.80,548.00 L418.80,557.00 Z M418.80,557.00 L418.80,555.30 L441.00,555.30 L441.00,557.00 Z M441.00,557.00 L441.00,555.50 L460.60,555.50 L460.60,557.00 Z " fill="#4daf8f"/>
<line x1="301.30" y1="446.5" x2="301.30" y2="556.5" stroke="#cfcfcf" stroke-width="1.2"/>
<line x1="291.70" y1="556.5" x2="291.70" y2="446.5" stroke="#2a2a2a" stroke-width="1.3" stroke-dasharray="4 2.2"/>
</g>
<clipPath id="cl"><rect x="481.5" y="446.5" width="201" height="110.5"/></clipPath><g clip-path="url(#cl)">
<path d="M484.00,557.00 L484.00,535.70 L495.30,535.70 L495.30,557.00 Z M495.30,557.00 L495.30,486.90 L506.90,486.90 L506.90,557.00 Z M506.90,557.00 L506.90,453.40 L517.90,453.40 L517.90,557.00 Z M517.90,557.00 L517.90,458.40 L529.40,458.40 L529.40,557.00 Z M529.40,557.00 L529.40,491.80 L540.80,491.80 L540.80,557.00 Z M540.80,557.00 L540.80,521.70 L552.10,521.70 L552.10,557.00 Z M552.10,557.00 L552.10,527.10 L563.70,527.10 L563.70,557.00 Z M563.70,557.00 L563.70,542.70 L575.10,542.70 L575.10,557.00 Z M575.10,557.00 L575.10,545.70 L586.40,545.70 L586.40,557.00 Z M586.40,557.00 L586.40,548.00 L597.90,548.00 L597.90,557.00 Z M597.90,557.00 L597.90,552.00 L609.20,552.00 L609.20,557.00 Z M609.20,557.00 L609.20,552.80 L620.80,552.80 L620.80,557.00 Z M620.80,557.00 L620.80,555.00 L632.40,555.00 L632.40,557.00 Z M632.40,557.00 L632.40,555.60 L643.70,555.60 L643.70,557.00 Z " fill="#4daf8f"/>
<line x1="522.11" y1="446.5" x2="522.11" y2="556.5" stroke="#cfcfcf" stroke-width="1.2"/>
<line x1="508.30" y1="556.5" x2="508.30" y2="446.5" stroke="#2a2a2a" stroke-width="1.3" stroke-dasharray="4 2.2"/>
</g>
<line x1="48.56" y1="125.0" x2="48.56" y2="121.5" stroke="#262626" stroke-width="0.65"/>
<line x1="48.56" y1="14.5" x2="48.56" y2="18.0" stroke="#262626" stroke-width="0.65"/>
<line x1="101.88" y1="125.0" x2="101.88" y2="121.5" stroke="#262626" stroke-width="0.65"/>
<line x1="101.88" y1="14.5" x2="101.88" y2="18.0" stroke="#262626" stroke-width="0.65"/>
<line x1="155.19" y1="125.0" x2="155.19" y2="121.5" stroke="#262626" stroke-width="0.65"/>
<line x1="155.19" y1="14.5" x2="155.19" y2="18.0" stroke="#262626" stroke-width="0.65"/>
<line x1="208.51" y1="125.0" x2="208.51" y2="121.5" stroke="#262626" stroke-width="0.65"/>
<line x1="208.51" y1="14.5" x2="208.51" y2="18.0" stroke="#262626" stroke-width="0.65"/>
<line x1="39.5" y1="46.07" x2="43.0" y2="46.07" stroke="#262626" stroke-width="0.65"/>
<line x1="39.5" y1="77.64" x2="43.0" y2="77.64" stroke="#262626" stroke-width="0.65"/>
<line x1="39.5" y1="109.21" x2="43.0" y2="109.21" stroke="#262626" stroke-width="0.65"/>
<line x1="240.5" y1="46.07" x2="237.0" y2="46.07" stroke="#262626" stroke-width="0.65"/>
<line x1="240.5" y1="77.64" x2="237.0" y2="77.64" stroke="#262626" stroke-width="0.65"/>
<line x1="240.5" y1="109.21" x2="237.0" y2="109.21" stroke="#262626" stroke-width="0.65"/>
<line x1="269.56" y1="125.0" x2="269.56" y2="121.5" stroke="#262626" stroke-width="0.65"/>
<line x1="269.56" y1="14.5" x2="269.56" y2="18.0" stroke="#262626" stroke-width="0.65"/>
<line x1="322.88" y1="125.0" x2="322.88" y2="121.5" stroke="#262626" stroke-width="0.65"/>
<line x1="322.88" y1="14.5" x2="322.88" y2="18.0" stroke="#262626" stroke-width="0.65"/>
<line x1="376.19" y1="125.0" x2="376.19" y2="121.5" stroke="#262626" stroke-width="0.65"/>
<line x1="376.19" y1="14.5" x2="376.19" y2="18.0" stroke="#262626" stroke-width="0.65"/>
<line x1="429.51" y1="125.0" x2="429.51" y2="121.5" stroke="#262626" stroke-width="0.65"/>
<line x1="429.51" y1="14.5" x2="429.51" y2="18.0" stroke="#262626" stroke-width="0.65"/>
<line x1="260.5" y1="46.07" x2="264.0" y2="46.07" stroke="#262626" stroke-width="0.65"/>
<line x1="260.5" y1="77.64" x2="264.0" y2="77.64" stroke="#262626" stroke-width="0.65"/>
<line x1="260.5" y1="109.21" x2="264.0" y2="109.21" stroke="#262626" stroke-width="0.65"/>
<line x1="461.5" y1="46.07" x2="458.0" y2="46.07" stroke="#262626" stroke-width="0.65"/>
<line x1="461.5" y1="77.64" x2="458.0" y2="77.64" stroke="#262626" stroke-width="0.65"/>
<line x1="461.5" y1="109.21" x2="458.0" y2="109.21" stroke="#262626" stroke-width="0.65"/>
<line x1="485.88" y1="125.0" x2="485.88" y2="121.5" stroke="#262626" stroke-width="0.65"/>
<line x1="485.88" y1="14.5" x2="485.88" y2="18.0" stroke="#262626" stroke-width="0.65"/>
<line x1="542.02" y1="125.0" x2="542.02" y2="121.5" stroke="#262626" stroke-width="0.65"/>
<line x1="542.02" y1="14.5" x2="542.02" y2="18.0" stroke="#262626" stroke-width="0.65"/>
<line x1="598.17" y1="125.0" x2="598.17" y2="121.5" stroke="#262626" stroke-width="0.65"/>
<line x1="598.17" y1="14.5" x2="598.17" y2="18.0" stroke="#262626" stroke-width="0.65"/>
<line x1="654.32" y1="125.0" x2="654.32" y2="121.5" stroke="#262626" stroke-width="0.65"/>
<line x1="654.32" y1="14.5" x2="654.32" y2="18.0" stroke="#262626" stroke-width="0.65"/>
<line x1="481.5" y1="46.07" x2="485.0" y2="46.07" stroke="#262626" stroke-width="0.65"/>
<line x1="481.5" y1="77.64" x2="485.0" y2="77.64" stroke="#262626" stroke-width="0.65"/>
<line x1="481.5" y1="109.21" x2="485.0" y2="109.21" stroke="#262626" stroke-width="0.65"/>
<line x1="682.5" y1="46.07" x2="679.0" y2="46.07" stroke="#262626" stroke-width="0.65"/>
<line x1="682.5" y1="77.64" x2="679.0" y2="77.64" stroke="#262626" stroke-width="0.65"/>
<line x1="682.5" y1="109.21" x2="679.0" y2="109.21" stroke="#262626" stroke-width="0.65"/>
<line x1="48.56" y1="268.5" x2="48.56" y2="265.0" stroke="#262626" stroke-width="0.65"/>
<line x1="48.56" y1="158.5" x2="48.56" y2="162.0" stroke="#262626" stroke-width="0.65"/>
<line x1="101.88" y1="268.5" x2="101.88" y2="265.0" stroke="#262626" stroke-width="0.65"/>
<line x1="101.88" y1="158.5" x2="101.88" y2="162.0" stroke="#262626" stroke-width="0.65"/>
<line x1="155.19" y1="268.5" x2="155.19" y2="265.0" stroke="#262626" stroke-width="0.65"/>
<line x1="155.19" y1="158.5" x2="155.19" y2="162.0" stroke="#262626" stroke-width="0.65"/>
<line x1="208.51" y1="268.5" x2="208.51" y2="265.0" stroke="#262626" stroke-width="0.65"/>
<line x1="208.51" y1="158.5" x2="208.51" y2="162.0" stroke="#262626" stroke-width="0.65"/>
<line x1="39.5" y1="180.50" x2="43.0" y2="180.50" stroke="#262626" stroke-width="0.65"/>
<line x1="39.5" y1="202.50" x2="43.0" y2="202.50" stroke="#262626" stroke-width="0.65"/>
<line x1="39.5" y1="224.50" x2="43.0" y2="224.50" stroke="#262626" stroke-width="0.65"/>
<line x1="39.5" y1="246.50" x2="43.0" y2="246.50" stroke="#262626" stroke-width="0.65"/>
<line x1="240.5" y1="180.50" x2="237.0" y2="180.50" stroke="#262626" stroke-width="0.65"/>
<line x1="240.5" y1="202.50" x2="237.0" y2="202.50" stroke="#262626" stroke-width="0.65"/>
<line x1="240.5" y1="224.50" x2="237.0" y2="224.50" stroke="#262626" stroke-width="0.65"/>
<line x1="240.5" y1="246.50" x2="237.0" y2="246.50" stroke="#262626" stroke-width="0.65"/>
<line x1="269.56" y1="268.5" x2="269.56" y2="265.0" stroke="#262626" stroke-width="0.65"/>
<line x1="269.56" y1="158.5" x2="269.56" y2="162.0" stroke="#262626" stroke-width="0.65"/>
<line x1="322.88" y1="268.5" x2="322.88" y2="265.0" stroke="#262626" stroke-width="0.65"/>
<line x1="322.88" y1="158.5" x2="322.88" y2="162.0" stroke="#262626" stroke-width="0.65"/>
<line x1="376.19" y1="268.5" x2="376.19" y2="265.0" stroke="#262626" stroke-width="0.65"/>
<line x1="376.19" y1="158.5" x2="376.19" y2="162.0" stroke="#262626" stroke-width="0.65"/>
<line x1="429.51" y1="268.5" x2="429.51" y2="265.0" stroke="#262626" stroke-width="0.65"/>
<line x1="429.51" y1="158.5" x2="429.51" y2="162.0" stroke="#262626" stroke-width="0.65"/>
<line x1="260.5" y1="180.50" x2="264.0" y2="180.50" stroke="#262626" stroke-width="0.65"/>
<line x1="260.5" y1="202.50" x2="264.0" y2="202.50" stroke="#262626" stroke-width="0.65"/>
<line x1="260.5" y1="224.50" x2="264.0" y2="224.50" stroke="#262626" stroke-width="0.65"/>
<line x1="260.5" y1="246.50" x2="264.0" y2="246.50" stroke="#262626" stroke-width="0.65"/>
<line x1="461.5" y1="180.50" x2="458.0" y2="180.50" stroke="#262626" stroke-width="0.65"/>
<line x1="461.5" y1="202.50" x2="458.0" y2="202.50" stroke="#262626" stroke-width="0.65"/>
<line x1="461.5" y1="224.50" x2="458.0" y2="224.50" stroke="#262626" stroke-width="0.65"/>
<line x1="461.5" y1="246.50" x2="458.0" y2="246.50" stroke="#262626" stroke-width="0.65"/>
<line x1="485.88" y1="268.5" x2="485.88" y2="265.0" stroke="#262626" stroke-width="0.65"/>
<line x1="485.88" y1="158.5" x2="485.88" y2="162.0" stroke="#262626" stroke-width="0.65"/>
<line x1="542.02" y1="268.5" x2="542.02" y2="265.0" stroke="#262626" stroke-width="0.65"/>
<line x1="542.02" y1="158.5" x2="542.02" y2="162.0" stroke="#262626" stroke-width="0.65"/>
<line x1="598.17" y1="268.5" x2="598.17" y2="265.0" stroke="#262626" stroke-width="0.65"/>
<line x1="598.17" y1="158.5" x2="598.17" y2="162.0" stroke="#262626" stroke-width="0.65"/>
<line x1="654.32" y1="268.5" x2="654.32" y2="265.0" stroke="#262626" stroke-width="0.65"/>
<line x1="654.32" y1="158.5" x2="654.32" y2="162.0" stroke="#262626" stroke-width="0.65"/>
<line x1="481.5" y1="180.50" x2="485.0" y2="180.50" stroke="#262626" stroke-width="0.65"/>
<line x1="481.5" y1="202.50" x2="485.0" y2="202.50" stroke="#262626" stroke-width="0.65"/>
<line x1="481.5" y1="224.50" x2="485.0" y2="224.50" stroke="#262626" stroke-width="0.65"/>
<line x1="481.5" y1="246.50" x2="485.0" y2="246.50" stroke="#262626" stroke-width="0.65"/>
<line x1="682.5" y1="180.50" x2="679.0" y2="180.50" stroke="#262626" stroke-width="0.65"/>
<line x1="682.5" y1="202.50" x2="679.0" y2="202.50" stroke="#262626" stroke-width="0.65"/>
<line x1="682.5" y1="224.50" x2="679.0" y2="224.50" stroke="#262626" stroke-width="0.65"/>
<line x1="682.5" y1="246.50" x2="679.0" y2="246.50" stroke="#262626" stroke-width="0.65"/>
<line x1="83.49" y1="412.5" x2="83.49" y2="409.0" stroke="#262626" stroke-width="0.65"/>
<line x1="83.49" y1="302.5" x2="83.49" y2="306.0" stroke="#262626" stroke-width="0.65"/>
<line x1="139.61" y1="412.5" x2="139.61" y2="409.0" stroke="#262626" stroke-width="0.65"/>
<line x1="139.61" y1="302.5" x2="139.61" y2="306.0" stroke="#262626" stroke-width="0.65"/>
<line x1="195.72" y1="412.5" x2="195.72" y2="409.0" stroke="#262626" stroke-width="0.65"/>
<line x1="195.72" y1="302.5" x2="195.72" y2="306.0" stroke="#262626" stroke-width="0.65"/>
<line x1="304.49" y1="412.5" x2="304.49" y2="409.0" stroke="#262626" stroke-width="0.65"/>
<line x1="304.49" y1="302.5" x2="304.49" y2="306.0" stroke="#262626" stroke-width="0.65"/>
<line x1="360.61" y1="412.5" x2="360.61" y2="409.0" stroke="#262626" stroke-width="0.65"/>
<line x1="360.61" y1="302.5" x2="360.61" y2="306.0" stroke="#262626" stroke-width="0.65"/>
<line x1="416.72" y1="412.5" x2="416.72" y2="409.0" stroke="#262626" stroke-width="0.65"/>
<line x1="416.72" y1="302.5" x2="416.72" y2="306.0" stroke="#262626" stroke-width="0.65"/>
<line x1="525.49" y1="412.5" x2="525.49" y2="409.0" stroke="#262626" stroke-width="0.65"/>
<line x1="525.49" y1="302.5" x2="525.49" y2="306.0" stroke="#262626" stroke-width="0.65"/>
<line x1="581.61" y1="412.5" x2="581.61" y2="409.0" stroke="#262626" stroke-width="0.65"/>
<line x1="581.61" y1="302.5" x2="581.61" y2="306.0" stroke="#262626" stroke-width="0.65"/>
<line x1="637.72" y1="412.5" x2="637.72" y2="409.0" stroke="#262626" stroke-width="0.65"/>
<line x1="637.72" y1="302.5" x2="637.72" y2="306.0" stroke="#262626" stroke-width="0.65"/>
<line x1="39.5" y1="320.80" x2="43.0" y2="320.80" stroke="#262626" stroke-width="0.65"/>
<line x1="39.5" y1="343.90" x2="43.0" y2="343.90" stroke="#262626" stroke-width="0.65"/>
<line x1="39.5" y1="366.80" x2="43.0" y2="366.80" stroke="#262626" stroke-width="0.65"/>
<line x1="39.5" y1="389.50" x2="43.0" y2="389.50" stroke="#262626" stroke-width="0.65"/>
<line x1="240.5" y1="320.40" x2="237.0" y2="320.40" stroke="#262626" stroke-width="0.65"/>
<line x1="240.5" y1="338.90" x2="237.0" y2="338.90" stroke="#262626" stroke-width="0.65"/>
<line x1="240.5" y1="357.30" x2="237.0" y2="357.30" stroke="#262626" stroke-width="0.65"/>
<line x1="240.5" y1="375.70" x2="237.0" y2="375.70" stroke="#262626" stroke-width="0.65"/>
<line x1="240.5" y1="394.30" x2="237.0" y2="394.30" stroke="#262626" stroke-width="0.65"/>
<line x1="260.5" y1="314.20" x2="264.0" y2="314.20" stroke="#262626" stroke-width="0.65"/>
<line x1="260.5" y1="334.60" x2="264.0" y2="334.60" stroke="#262626" stroke-width="0.65"/>
<line x1="260.5" y1="353.80" x2="264.0" y2="353.80" stroke="#262626" stroke-width="0.65"/>
<line x1="260.5" y1="373.50" x2="264.0" y2="373.50" stroke="#262626" stroke-width="0.65"/>
<line x1="260.5" y1="393.30" x2="264.0" y2="393.30" stroke="#262626" stroke-width="0.65"/>
<line x1="461.5" y1="314.20" x2="458.0" y2="314.20" stroke="#262626" stroke-width="0.65"/>
<line x1="461.5" y1="339.00" x2="458.0" y2="339.00" stroke="#262626" stroke-width="0.65"/>
<line x1="461.5" y1="363.30" x2="458.0" y2="363.30" stroke="#262626" stroke-width="0.65"/>
<line x1="461.5" y1="388.40" x2="458.0" y2="388.40" stroke="#262626" stroke-width="0.65"/>
<line x1="481.5" y1="308.90" x2="485.0" y2="308.90" stroke="#262626" stroke-width="0.65"/>
<line x1="481.5" y1="343.50" x2="485.0" y2="343.50" stroke="#262626" stroke-width="0.65"/>
<line x1="481.5" y1="378.10" x2="485.0" y2="378.10" stroke="#262626" stroke-width="0.65"/>
<line x1="682.5" y1="324.10" x2="679.0" y2="324.10" stroke="#262626" stroke-width="0.65"/>
<line x1="682.5" y1="353.40" x2="679.0" y2="353.40" stroke="#262626" stroke-width="0.65"/>
<line x1="682.5" y1="383.40" x2="679.0" y2="383.40" stroke="#262626" stroke-width="0.65"/>
<line x1="80.30" y1="556.5" x2="80.30" y2="553.0" stroke="#262626" stroke-width="0.65"/>
<line x1="80.30" y1="446.5" x2="80.30" y2="450.0" stroke="#262626" stroke-width="0.65"/>
<line x1="121.11" y1="556.5" x2="121.11" y2="553.0" stroke="#262626" stroke-width="0.65"/>
<line x1="121.11" y1="446.5" x2="121.11" y2="450.0" stroke="#262626" stroke-width="0.65"/>
<line x1="161.91" y1="556.5" x2="161.91" y2="553.0" stroke="#262626" stroke-width="0.65"/>
<line x1="161.91" y1="446.5" x2="161.91" y2="450.0" stroke="#262626" stroke-width="0.65"/>
<line x1="202.72" y1="556.5" x2="202.72" y2="553.0" stroke="#262626" stroke-width="0.65"/>
<line x1="202.72" y1="446.5" x2="202.72" y2="450.0" stroke="#262626" stroke-width="0.65"/>
<line x1="301.30" y1="556.5" x2="301.30" y2="553.0" stroke="#262626" stroke-width="0.65"/>
<line x1="301.30" y1="446.5" x2="301.30" y2="450.0" stroke="#262626" stroke-width="0.65"/>
<line x1="342.11" y1="556.5" x2="342.11" y2="553.0" stroke="#262626" stroke-width="0.65"/>
<line x1="342.11" y1="446.5" x2="342.11" y2="450.0" stroke="#262626" stroke-width="0.65"/>
<line x1="382.91" y1="556.5" x2="382.91" y2="553.0" stroke="#262626" stroke-width="0.65"/>
<line x1="382.91" y1="446.5" x2="382.91" y2="450.0" stroke="#262626" stroke-width="0.65"/>
<line x1="423.72" y1="556.5" x2="423.72" y2="553.0" stroke="#262626" stroke-width="0.65"/>
<line x1="423.72" y1="446.5" x2="423.72" y2="450.0" stroke="#262626" stroke-width="0.65"/>
<line x1="522.11" y1="556.5" x2="522.11" y2="553.0" stroke="#262626" stroke-width="0.65"/>
<line x1="522.11" y1="446.5" x2="522.11" y2="450.0" stroke="#262626" stroke-width="0.65"/>
<line x1="562.71" y1="556.5" x2="562.71" y2="553.0" stroke="#262626" stroke-width="0.65"/>
<line x1="562.71" y1="446.5" x2="562.71" y2="450.0" stroke="#262626" stroke-width="0.65"/>
<line x1="603.32" y1="556.5" x2="603.32" y2="553.0" stroke="#262626" stroke-width="0.65"/>
<line x1="603.32" y1="446.5" x2="603.32" y2="450.0" stroke="#262626" stroke-width="0.65"/>
<line x1="643.92" y1="556.5" x2="643.92" y2="553.0" stroke="#262626" stroke-width="0.65"/>
<line x1="643.92" y1="446.5" x2="643.92" y2="450.0" stroke="#262626" stroke-width="0.65"/>
<line x1="39.5" y1="473.50" x2="43.0" y2="473.50" stroke="#262626" stroke-width="0.65"/>
<line x1="39.5" y1="501.40" x2="43.0" y2="501.40" stroke="#262626" stroke-width="0.65"/>
<line x1="39.5" y1="529.10" x2="43.0" y2="529.10" stroke="#262626" stroke-width="0.65"/>
<line x1="240.5" y1="473.50" x2="237.0" y2="473.50" stroke="#262626" stroke-width="0.65"/>
<line x1="240.5" y1="501.40" x2="237.0" y2="501.40" stroke="#262626" stroke-width="0.65"/>
<line x1="240.5" y1="529.10" x2="237.0" y2="529.10" stroke="#262626" stroke-width="0.65"/>
<line x1="260.5" y1="459.00" x2="264.0" y2="459.00" stroke="#262626" stroke-width="0.65"/>
<line x1="260.5" y1="491.40" x2="264.0" y2="491.40" stroke="#262626" stroke-width="0.65"/>
<line x1="260.5" y1="524.10" x2="264.0" y2="524.10" stroke="#262626" stroke-width="0.65"/>
<line x1="461.5" y1="459.00" x2="458.0" y2="459.00" stroke="#262626" stroke-width="0.65"/>
<line x1="461.5" y1="491.40" x2="458.0" y2="491.40" stroke="#262626" stroke-width="0.65"/>
<line x1="461.5" y1="524.10" x2="458.0" y2="524.10" stroke="#262626" stroke-width="0.65"/>
<line x1="481.5" y1="459.00" x2="485.0" y2="459.00" stroke="#262626" stroke-width="0.65"/>
<line x1="481.5" y1="491.40" x2="485.0" y2="491.40" stroke="#262626" stroke-width="0.65"/>
<line x1="481.5" y1="524.10" x2="485.0" y2="524.10" stroke="#262626" stroke-width="0.65"/>
<line x1="682.5" y1="459.00" x2="679.0" y2="459.00" stroke="#262626" stroke-width="0.65"/>
<line x1="682.5" y1="491.40" x2="679.0" y2="491.40" stroke="#262626" stroke-width="0.65"/>
<line x1="682.5" y1="524.10" x2="679.0" y2="524.10" stroke="#262626" stroke-width="0.65"/>
<text x="107.59" y="10.70" font-size="15.5" font-weight="normal" font-style="normal" fill="#262626" textLength="64.04" lengthAdjust="spacingAndGlyphs">HadSST4</text>
<text x="321.73" y="10.70" font-size="15.5" font-weight="normal" font-style="normal" fill="#262626" textLength="77.15" lengthAdjust="spacingAndGlyphs">HadCRUT5</text>
<text x="548.81" y="10.70" font-size="15.5" font-weight="normal" font-style="normal" fill="#262626" textLength="64.60" lengthAdjust="spacingAndGlyphs">ERRSTv5</text>
<text x="-1.21" y="19.50" font-size="9.0" font-weight="bold" font-style="normal" fill="#1a1a1a" textLength="14.92" lengthAdjust="spacingAndGlyphs">(a)</text>
<text x="242.20" y="19.50" font-size="9.0" font-weight="bold" font-style="normal" fill="#1a1a1a" textLength="15.29" lengthAdjust="spacingAndGlyphs">(b)</text>
<text x="463.13" y="19.50" font-size="9.0" font-weight="bold" font-style="normal" fill="#1a1a1a" textLength="14.06" lengthAdjust="spacingAndGlyphs">(c)</text>
<text x="-1.20" y="163.50" font-size="9.0" font-weight="bold" font-style="normal" fill="#1a1a1a" textLength="15.29" lengthAdjust="spacingAndGlyphs">(d)</text>
<text x="242.19" y="163.50" font-size="9.0" font-weight="bold" font-style="normal" fill="#1a1a1a" textLength="14.96" lengthAdjust="spacingAndGlyphs">(e)</text>
<text x="463.07" y="163.50" font-size="9.0" font-weight="bold" font-style="normal" fill="#1a1a1a" textLength="12.64" lengthAdjust="spacingAndGlyphs">(f)</text>
<text x="-1.20" y="307.50" font-size="9.0" font-weight="bold" font-style="normal" fill="#1a1a1a" textLength="15.29" lengthAdjust="spacingAndGlyphs">(g)</text>
<text x="242.21" y="307.50" font-size="9.0" font-weight="bold" font-style="normal" fill="#1a1a1a" textLength="15.25" lengthAdjust="spacingAndGlyphs">(h)</text>
<text x="463.08" y="307.50" font-size="9.0" font-weight="bold" font-style="normal" fill="#1a1a1a" textLength="11.73" lengthAdjust="spacingAndGlyphs">(i)</text>
<text x="-1.22" y="451.50" font-size="9.0" font-weight="bold" font-style="normal" fill="#1a1a1a" textLength="11.73" lengthAdjust="spacingAndGlyphs">(j)</text>
<text x="242.20" y="451.50" font-size="9.0" font-weight="bold" font-style="normal" fill="#1a1a1a" textLength="14.82" lengthAdjust="spacingAndGlyphs">(k)</text>
<text x="463.08" y="451.50" font-size="9.0" font-weight="bold" font-style="normal" fill="#1a1a1a" textLength="11.73" lengthAdjust="spacingAndGlyphs">(l)</text>
<text x="30.50" y="17.90" font-size="10.0" font-weight="normal" font-style="normal" fill="#262626" textLength="5.49" lengthAdjust="spacingAndGlyphs">2</text>
<text x="30.44" y="49.47" font-size="10.0" font-weight="normal" font-style="normal" fill="#262626" textLength="5.55" lengthAdjust="spacingAndGlyphs">1</text>
<text x="30.52" y="81.04" font-size="10.0" font-weight="normal" font-style="normal" fill="#262626" textLength="5.35" lengthAdjust="spacingAndGlyphs">0</text>
<text x="23.77" y="112.61" font-size="10.0" font-weight="normal" font-style="normal" fill="#262626" textLength="12.25" lengthAdjust="spacingAndGlyphs">−1</text>
<text x="21.90" y="161.90" font-size="10.0" font-weight="normal" font-style="normal" fill="#262626" textLength="14.09" lengthAdjust="spacingAndGlyphs">0.0</text>
<text x="15.28" y="183.90" font-size="10.0" font-weight="normal" font-style="normal" fill="#262626" textLength="20.85" lengthAdjust="spacingAndGlyphs">−0.2</text>
<text x="15.28" y="205.90" font-size="10.0" font-weight="normal" font-style="normal" fill="#262626" textLength="20.62" lengthAdjust="spacingAndGlyphs">−0.4</text>
<text x="15.28" y="227.90" font-size="10.0" font-weight="normal" font-style="normal" fill="#262626" textLength="20.78" lengthAdjust="spacingAndGlyphs">−0.6</text>
<text x="15.28" y="249.90" font-size="10.0" font-weight="normal" font-style="normal" fill="#262626" textLength="20.78" lengthAdjust="spacingAndGlyphs">−0.8</text>
<text x="15.28" y="271.90" font-size="10.0" font-weight="normal" font-style="normal" fill="#262626" textLength="20.73" lengthAdjust="spacingAndGlyphs">−1.0</text>
<text x="37.72" y="135.20" font-size="10.0" font-weight="normal" font-style="normal" fill="#262626" textLength="21.73" lengthAdjust="spacingAndGlyphs">1850</text>
<text x="91.04" y="135.20" font-size="10.0" font-weight="normal" font-style="normal" fill="#262626" textLength="21.73" lengthAdjust="spacingAndGlyphs">1900</text>
<text x="144.35" y="135.20" font-size="10.0" font-weight="normal" font-style="normal" fill="#262626" textLength="21.73" lengthAdjust="spacingAndGlyphs">1950</text>
<text x="197.93" y="135.20" font-size="10.0" font-weight="normal" font-style="normal" fill="#262626" textLength="21.46" lengthAdjust="spacingAndGlyphs">2000</text>
<text x="128.52" y="146.90" font-size="11.3" font-weight="normal" font-style="normal" fill="#262626" textLength="22.31" lengthAdjust="spacingAndGlyphs">Year</text>
<text x="258.72" y="135.20" font-size="10.0" font-weight="normal" font-style="normal" fill="#262626" textLength="21.73" lengthAdjust="spacingAndGlyphs">1850</text>
<text x="312.04" y="135.20" font-size="10.0" font-weight="normal" font-style="normal" fill="#262626" textLength="21.73" lengthAdjust="spacingAndGlyphs">1900</text>
<text x="365.35" y="135.20" font-size="10.0" font-weight="normal" font-style="normal" fill="#262626" textLength="21.73" lengthAdjust="spacingAndGlyphs">1950</text>
<text x="418.93" y="135.20" font-size="10.0" font-weight="normal" font-style="normal" fill="#262626" textLength="21.46" lengthAdjust="spacingAndGlyphs">2000</text>
<text x="349.52" y="146.90" font-size="11.3" font-weight="normal" font-style="normal" fill="#262626" textLength="22.31" lengthAdjust="spacingAndGlyphs">Year</text>
<text x="475.04" y="135.20" font-size="10.0" font-weight="normal" font-style="normal" fill="#262626" textLength="21.73" lengthAdjust="spacingAndGlyphs">1850</text>
<text x="531.18" y="135.20" font-size="10.0" font-weight="normal" font-style="normal" fill="#262626" textLength="21.73" lengthAdjust="spacingAndGlyphs">1900</text>
<text x="587.33" y="135.20" font-size="10.0" font-weight="normal" font-style="normal" fill="#262626" textLength="21.73" lengthAdjust="spacingAndGlyphs">1950</text>
<text x="643.73" y="135.20" font-size="10.0" font-weight="normal" font-style="normal" fill="#262626" textLength="21.46" lengthAdjust="spacingAndGlyphs">2000</text>
<text x="570.52" y="146.90" font-size="11.3" font-weight="normal" font-style="normal" fill="#262626" textLength="22.31" lengthAdjust="spacingAndGlyphs">Year</text>
<text x="37.72" y="278.70" font-size="10.0" font-weight="normal" font-style="normal" fill="#262626" textLength="21.73" lengthAdjust="spacingAndGlyphs">1850</text>
<text x="91.04" y="278.70" font-size="10.0" font-weight="normal" font-style="normal" fill="#262626" textLength="21.73" lengthAdjust="spacingAndGlyphs">1900</text>
<text x="144.35" y="278.70" font-size="10.0" font-weight="normal" font-style="normal" fill="#262626" textLength="21.73" lengthAdjust="spacingAndGlyphs">1950</text>
<text x="197.93" y="278.70" font-size="10.0" font-weight="normal" font-style="normal" fill="#262626" textLength="21.46" lengthAdjust="spacingAndGlyphs">2000</text>
<text x="128.52" y="290.40" font-size="11.3" font-weight="normal" font-style="normal" fill="#262626" textLength="22.31" lengthAdjust="spacingAndGlyphs">Year</text>
<text x="258.72" y="278.70" font-size="10.0" font-weight="normal" font-style="normal" fill="#262626" textLength="21.73" lengthAdjust="spacingAndGlyphs">1850</text>
<text x="312.04" y="278.70" font-size="10.0" font-weight="normal" font-style="normal" fill="#262626" textLength="21.73" lengthAdjust="spacingAndGlyphs">1900</text>
<text x="365.35" y="278.70" font-size="10.0" font-weight="normal" font-style="normal" fill="#262626" textLength="21.73" lengthAdjust="spacingAndGlyphs">1950</text>
<text x="418.93" y="278.70" font-size="10.0" font-weight="normal" font-style="normal" fill="#262626" textLength="21.46" lengthAdjust="spacingAndGlyphs">2000</text>
<text x="349.52" y="290.40" font-size="11.3" font-weight="normal" font-style="normal" fill="#262626" textLength="22.31" lengthAdjust="spacingAndGlyphs">Year</text>
<text x="475.04" y="278.70" font-size="10.0" font-weight="normal" font-style="normal" fill="#262626" textLength="21.73" lengthAdjust="spacingAndGlyphs">1850</text>
<text x="531.18" y="278.70" font-size="10.0" font-weight="normal" font-style="normal" fill="#262626" textLength="21.73" lengthAdjust="spacingAndGlyphs">1900</text>
<text x="587.33" y="278.70" font-size="10.0" font-weight="normal" font-style="normal" fill="#262626" textLength="21.73" lengthAdjust="spacingAndGlyphs">1950</text>
<text x="643.73" y="278.70" font-size="10.0" font-weight="normal" font-style="normal" fill="#262626" textLength="21.46" lengthAdjust="spacingAndGlyphs">2000</text>
<text x="570.52" y="290.40" font-size="11.3" font-weight="normal" font-style="normal" fill="#262626" textLength="22.31" lengthAdjust="spacingAndGlyphs">Year</text>
<text x="78.12" y="422.70" font-size="10.0" font-weight="normal" font-style="normal" fill="#262626" textLength="12.07" lengthAdjust="spacingAndGlyphs">−5</text>
<text x="136.81" y="422.70" font-size="10.0" font-weight="normal" font-style="normal" fill="#262626" textLength="5.58" lengthAdjust="spacingAndGlyphs">0</text>
<text x="192.92" y="422.70" font-size="10.0" font-weight="normal" font-style="normal" fill="#262626" textLength="5.63" lengthAdjust="spacingAndGlyphs">5</text>
<text x="217.22" y="432.90" font-size="10.0" font-weight="normal" font-style="normal" fill="#262626" textLength="23.13" lengthAdjust="spacingAndGlyphs">1e−3</text>
<text x="299.12" y="422.70" font-size="10.0" font-weight="normal" font-style="normal" fill="#262626" textLength="12.07" lengthAdjust="spacingAndGlyphs">−5</text>
<text x="357.81" y="422.70" font-size="10.0" font-weight="normal" font-style="normal" fill="#262626" textLength="5.58" lengthAdjust="spacingAndGlyphs">0</text>
<text x="413.92" y="422.70" font-size="10.0" font-weight="normal" font-style="normal" fill="#262626" textLength="5.63" lengthAdjust="spacingAndGlyphs">5</text>
<text x="438.22" y="432.90" font-size="10.0" font-weight="normal" font-style="normal" fill="#262626" textLength="23.13" lengthAdjust="spacingAndGlyphs">1e−3</text>
<text x="520.12" y="422.70" font-size="10.0" font-weight="normal" font-style="normal" fill="#262626" textLength="12.07" lengthAdjust="spacingAndGlyphs">−5</text>
<text x="578.81" y="422.70" font-size="10.0" font-weight="normal" font-style="normal" fill="#262626" textLength="5.58" lengthAdjust="spacingAndGlyphs">0</text>
<text x="634.92" y="422.70" font-size="10.0" font-weight="normal" font-style="normal" fill="#262626" textLength="5.63" lengthAdjust="spacingAndGlyphs">5</text>
<text x="659.22" y="432.90" font-size="10.0" font-weight="normal" font-style="normal" fill="#262626" textLength="23.13" lengthAdjust="spacingAndGlyphs">1e−3</text>
<text x="29.92" y="566.70" font-size="10.0" font-weight="normal" font-style="normal" fill="#262626" textLength="19.17" lengthAdjust="spacingAndGlyphs">0.00</text>
<text x="70.72" y="566.70" font-size="10.0" font-weight="normal" font-style="normal" fill="#262626" textLength="19.20" lengthAdjust="spacingAndGlyphs">0.05</text>
<text x="111.52" y="566.70" font-size="10.0" font-weight="normal" font-style="normal" fill="#262626" textLength="19.17" lengthAdjust="spacingAndGlyphs">0.10</text>
<text x="152.33" y="566.70" font-size="10.0" font-weight="normal" font-style="normal" fill="#262626" textLength="19.20" lengthAdjust="spacingAndGlyphs">0.15</text>
<text x="193.13" y="566.70" font-size="10.0" font-weight="normal" font-style="normal" fill="#262626" textLength="19.17" lengthAdjust="spacingAndGlyphs">0.20</text>
<text x="250.92" y="566.70" font-size="10.0" font-weight="normal" font-style="normal" fill="#262626" textLength="19.17" lengthAdjust="spacingAndGlyphs">0.00</text>
<text x="291.72" y="566.70" font-size="10.0" font-weight="normal" font-style="normal" fill="#262626" textLength="19.20" lengthAdjust="spacingAndGlyphs">0.05</text>
<text x="332.52" y="566.70" font-size="10.0" font-weight="normal" font-style="normal" fill="#262626" textLength="19.17" lengthAdjust="spacingAndGlyphs">0.10</text>
<text x="373.33" y="566.70" font-size="10.0" font-weight="normal" font-style="normal" fill="#262626" textLength="19.20" lengthAdjust="spacingAndGlyphs">0.15</text>
<text x="414.13" y="566.70" font-size="10.0" font-weight="normal" font-style="normal" fill="#262626" textLength="19.17" lengthAdjust="spacingAndGlyphs">0.20</text>
<text x="471.92" y="566.70" font-size="10.0" font-weight="normal" font-style="normal" fill="#262626" textLength="19.17" lengthAdjust="spacingAndGlyphs">0.00</text>
<text x="512.52" y="566.70" font-size="10.0" font-weight="normal" font-style="normal" fill="#262626" textLength="19.20" lengthAdjust="spacingAndGlyphs">0.05</text>
<text x="553.13" y="566.70" font-size="10.0" font-weight="normal" font-style="normal" fill="#262626" textLength="19.17" lengthAdjust="spacingAndGlyphs">0.10</text>
<text x="593.73" y="566.70" font-size="10.0" font-weight="normal" font-style="normal" fill="#262626" textLength="19.20" lengthAdjust="spacingAndGlyphs">0.15</text>
<text x="634.34" y="566.70" font-size="10.0" font-weight="normal" font-style="normal" fill="#262626" textLength="19.17" lengthAdjust="spacingAndGlyphs">0.20</text>
<text x="-20.47" y="69.80" font-size="11.3" font-weight="normal" font-style="normal" fill="#262626" textLength="80.52" lengthAdjust="spacingAndGlyphs" transform="rotate(-90 19.40 69.80)">AMOC index [K]</text>
<line x1="52.00" y1="170.50" x2="70.50" y2="170.50" stroke="#1a1a1a" stroke-width="1.5"/>
<text x="77.01" y="173.70" font-size="9.9" font-weight="normal" font-style="normal" fill="#262626" textLength="31.65" lengthAdjust="spacingAndGlyphs">Median</text>
<rect x="53.00" y="180.00" width="17.1" height="6.1" fill="#d2ece5"/>
<text x="77.36" y="186.10" font-size="9.9" font-weight="normal" font-style="normal" fill="#262626" textLength="60.08" lengthAdjust="spacingAndGlyphs">Sample range</text>
<line x1="273.00" y1="170.50" x2="291.50" y2="170.50" stroke="#1a1a1a" stroke-width="1.5"/>
<text x="298.01" y="173.70" font-size="9.9" font-weight="normal" font-style="normal" fill="#262626" textLength="24.14" lengthAdjust="spacingAndGlyphs">Mean</text>
<rect x="274.00" y="180.00" width="17.1" height="6.1" fill="#d2ece5"/>
<text x="298.01" y="186.10" font-size="9.9" font-weight="normal" font-style="normal" fill="#262626" textLength="70.27" lengthAdjust="spacingAndGlyphs">Ensemble range</text>
<line x1="494.00" y1="170.50" x2="512.50" y2="170.50" stroke="#1a1a1a" stroke-width="1.5"/>
<text x="519.34" y="173.70" font-size="9.9" font-weight="normal" font-style="normal" fill="#262626" textLength="49.89" lengthAdjust="spacingAndGlyphs">Operational</text>
<rect x="495.00" y="180.00" width="17.1" height="6.1" fill="#d2ece5"/>
<text x="519.01" y="186.10" font-size="9.9" font-weight="normal" font-style="normal" fill="#262626" textLength="70.27" lengthAdjust="spacingAndGlyphs">Ensemble range</text>
<rect x="44.90" y="316.90" width="17.1" height="6.1" fill="#1b9e77"/>
<text x="69.56" y="323.00" font-size="9.9" font-weight="normal" font-style="normal" fill="#262626" textLength="37.54" lengthAdjust="spacingAndGlyphs">Samples</text>
<line x1="44.90" y1="332.30" x2="62.00" y2="332.30" stroke="#1a1a1a" stroke-width="1.3" stroke-dasharray="3.8 2.3"/>
<text x="69.21" y="335.50" font-size="9.9" font-weight="normal" font-style="normal" fill="#262626" textLength="31.65" lengthAdjust="spacingAndGlyphs">Median</text>
<rect x="44.90" y="340.70" width="17.1" height="6.0" fill="#e48f4e"/>
<text x="69.21" y="346.60" font-size="9.9" font-weight="normal" font-style="normal" fill="#262626" textLength="12.33" lengthAdjust="spacingAndGlyphs">FS</text>
<rect x="265.90" y="316.90" width="17.1" height="6.1" fill="#1b9e77"/>
<text x="290.21" y="323.00" font-size="9.9" font-weight="normal" font-style="normal" fill="#262626" textLength="42.91" lengthAdjust="spacingAndGlyphs">Ensemble</text>
<line x1="265.90" y1="332.30" x2="283.00" y2="332.30" stroke="#1a1a1a" stroke-width="1.3" stroke-dasharray="3.8 2.3"/>
<text x="290.21" y="335.50" font-size="9.9" font-weight="normal" font-style="normal" fill="#262626" textLength="24.14" lengthAdjust="spacingAndGlyphs">Mean</text>
<rect x="265.90" y="340.70" width="17.1" height="6.0" fill="#e48f4e"/>
<text x="290.21" y="346.60" font-size="9.9" font-weight="normal" font-style="normal" fill="#262626" textLength="12.33" lengthAdjust="spacingAndGlyphs">FS</text>
<rect x="486.90" y="316.90" width="17.1" height="6.1" fill="#1b9e77"/>
<text x="511.21" y="323.00" font-size="9.9" font-weight="normal" font-style="normal" fill="#262626" textLength="42.91" lengthAdjust="spacingAndGlyphs">Ensemble</text>
<line x1="486.90" y1="332.30" x2="504.00" y2="332.30" stroke="#1a1a1a" stroke-width="1.3" stroke-dasharray="3.8 2.3"/>
<text x="511.54" y="335.50" font-size="9.9" font-weight="normal" font-style="normal" fill="#262626" textLength="49.89" lengthAdjust="spacingAndGlyphs">Operational</text>
<rect x="486.90" y="340.70" width="17.1" height="6.0" fill="#e48f4e"/>
<text x="511.21" y="346.60" font-size="9.9" font-weight="normal" font-style="normal" fill="#262626" textLength="12.33" lengthAdjust="spacingAndGlyphs">FS</text>
<rect x="162.90" y="459.00" width="18.0" height="6.1" fill="#4daf8f"/>
<text x="187.26" y="465.50" font-size="9.9" font-weight="normal" font-style="normal" fill="#262626" textLength="37.54" lengthAdjust="spacingAndGlyphs">Samples</text>
<line x1="162.90" y1="474.80" x2="180.90" y2="474.80" stroke="#333" stroke-width="1.3" stroke-dasharray="4 2.3"/>
<text x="187.06" y="478.10" font-size="9.9" font-weight="normal" font-style="normal" fill="#262626" textLength="31.65" lengthAdjust="spacingAndGlyphs">median</text>
<line x1="162.90" y1="487.30" x2="180.90" y2="487.30" stroke="#cfcfcf" stroke-width="1.2"/>
<text x="187.32" y="490.90" font-size="9.9" font-weight="normal" font-style="normal" fill="#262626" textLength="18.78" lengthAdjust="spacingAndGlyphs">0.05</text>
<rect x="383.90" y="459.00" width="18.0" height="6.1" fill="#4daf8f"/>
<text x="407.91" y="465.50" font-size="9.9" font-weight="normal" font-style="normal" fill="#262626" textLength="42.91" lengthAdjust="spacingAndGlyphs">Ensemble</text>
<line x1="383.90" y1="474.80" x2="401.90" y2="474.80" stroke="#333" stroke-width="1.3" stroke-dasharray="4 2.3"/>
<text x="407.91" y="478.10" font-size="9.9" font-weight="normal" font-style="normal" fill="#262626" textLength="24.14" lengthAdjust="spacingAndGlyphs">Mean</text>
<line x1="383.90" y1="487.30" x2="401.90" y2="487.30" stroke="#cfcfcf" stroke-width="1.2"/>
<text x="408.32" y="490.90" font-size="9.9" font-weight="normal" font-style="normal" fill="#262626" textLength="18.78" lengthAdjust="spacingAndGlyphs">0.05</text>
<rect x="604.90" y="459.00" width="18.0" height="6.1" fill="#4daf8f"/>
<text x="628.91" y="465.50" font-size="9.9" font-weight="normal" font-style="normal" fill="#262626" textLength="42.91" lengthAdjust="spacingAndGlyphs">Ensemble</text>
<line x1="604.90" y1="474.80" x2="622.90" y2="474.80" stroke="#333" stroke-width="1.3" stroke-dasharray="4 2.3"/>
<text x="629.24" y="478.10" font-size="9.9" font-weight="normal" font-style="normal" fill="#262626" textLength="49.89" lengthAdjust="spacingAndGlyphs">Operational</text>
<line x1="604.90" y1="487.30" x2="622.90" y2="487.30" stroke="#cfcfcf" stroke-width="1.2"/>
<text x="629.32" y="490.90" font-size="9.9" font-weight="normal" font-style="normal" fill="#262626" textLength="18.78" lengthAdjust="spacingAndGlyphs">0.05</text>
<text x="95.66" y="436.00" font-size="11.3" font-weight="normal" font-style="italic" fill="#262626" textLength="6.10" lengthAdjust="spacingAndGlyphs">λ</text>
<text x="105.83" y="436.00" font-size="11.3" font-weight="normal" font-style="normal" fill="#262626" textLength="32.09" lengthAdjust="spacingAndGlyphs">trends</text>
<text x="140.94" y="436.00" font-size="11.3" font-weight="normal" font-style="normal" fill="#262626" textLength="26.97" lengthAdjust="spacingAndGlyphs">[year</text>
<text x="167.43" y="431.90" font-size="7.9" font-weight="normal" font-style="normal" fill="#262626" textLength="10.83" lengthAdjust="spacingAndGlyphs">−1</text>
<text x="179.47" y="436.00" font-size="11.3" font-weight="normal" font-style="normal" fill="#262626" textLength="4.47" lengthAdjust="spacingAndGlyphs">]</text>
<text x="316.66" y="436.00" font-size="11.3" font-weight="normal" font-style="italic" fill="#262626" textLength="6.10" lengthAdjust="spacingAndGlyphs">λ</text>
<text x="326.83" y="436.00" font-size="11.3" font-weight="normal" font-style="normal" fill="#262626" textLength="32.09" lengthAdjust="spacingAndGlyphs">trends</text>
<text x="361.94" y="436.00" font-size="11.3" font-weight="normal" font-style="normal" fill="#262626" textLength="26.97" lengthAdjust="spacingAndGlyphs">[year</text>
<text x="388.43" y="431.90" font-size="7.9" font-weight="normal" font-style="normal" fill="#262626" textLength="10.83" lengthAdjust="spacingAndGlyphs">−1</text>
<text x="400.47" y="436.00" font-size="11.3" font-weight="normal" font-style="normal" fill="#262626" textLength="4.47" lengthAdjust="spacingAndGlyphs">]</text>
<text x="537.66" y="436.00" font-size="11.3" font-weight="normal" font-style="italic" fill="#262626" textLength="6.10" lengthAdjust="spacingAndGlyphs">λ</text>
<text x="547.83" y="436.00" font-size="11.3" font-weight="normal" font-style="normal" fill="#262626" textLength="32.09" lengthAdjust="spacingAndGlyphs">trends</text>
<text x="582.94" y="436.00" font-size="11.3" font-weight="normal" font-style="normal" fill="#262626" textLength="26.97" lengthAdjust="spacingAndGlyphs">[year</text>
<text x="609.43" y="431.90" font-size="7.9" font-weight="normal" font-style="normal" fill="#262626" textLength="10.83" lengthAdjust="spacingAndGlyphs">−1</text>
<text x="621.47" y="436.00" font-size="11.3" font-weight="normal" font-style="normal" fill="#262626" textLength="4.47" lengthAdjust="spacingAndGlyphs">]</text>
<text x="64.85" y="577.80" font-size="11.3" font-weight="normal" font-style="normal" fill="#262626" textLength="103.35" lengthAdjust="spacingAndGlyphs">P values of member</text>
<text x="172.06" y="577.80" font-size="11.3" font-weight="normal" font-style="italic" fill="#262626" textLength="6.10" lengthAdjust="spacingAndGlyphs">λ</text>
<text x="181.62" y="577.80" font-size="11.3" font-weight="normal" font-style="normal" fill="#262626" textLength="33.01" lengthAdjust="spacingAndGlyphs">trends</text>
<text x="287.94" y="577.80" font-size="11.3" font-weight="normal" font-style="normal" fill="#262626" textLength="98.58" lengthAdjust="spacingAndGlyphs">P values of sample</text>
<text x="389.66" y="577.80" font-size="11.3" font-weight="normal" font-style="italic" fill="#262626" textLength="6.10" lengthAdjust="spacingAndGlyphs">λ</text>
<text x="399.22" y="577.80" font-size="11.3" font-weight="normal" font-style="normal" fill="#262626" textLength="33.31" lengthAdjust="spacingAndGlyphs">trends</text>
<text x="506.85" y="577.80" font-size="11.3" font-weight="normal" font-style="normal" fill="#262626" textLength="103.35" lengthAdjust="spacingAndGlyphs">P values of member</text>
<text x="614.06" y="577.80" font-size="11.3" font-weight="normal" font-style="italic" fill="#262626" textLength="6.10" lengthAdjust="spacingAndGlyphs">λ</text>
<text x="623.62" y="577.80" font-size="11.3" font-weight="normal" font-style="normal" fill="#262626" textLength="33.01" lengthAdjust="spacingAndGlyphs">trends</text>
<text x="7.73" y="214.40" font-size="14.6" font-weight="normal" font-style="italic" fill="#262626" transform="rotate(-90 10.60 214.40)">λ</text></svg></body></html>
